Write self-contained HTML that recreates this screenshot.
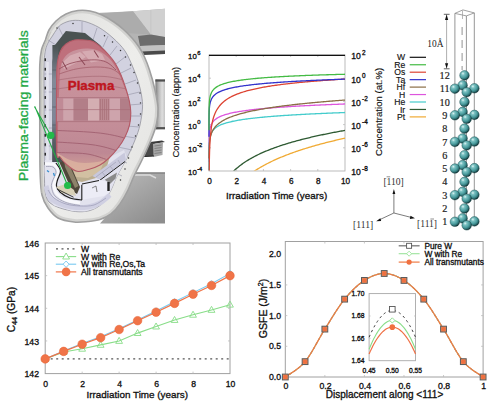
<!DOCTYPE html>
<html><head><meta charset="utf-8"><style>
html,body{margin:0;padding:0;background:#fff;}
svg{display:block;}
text[fill="#111"]{stroke:#111;stroke-width:0.32px;}
</style></head><body>
<svg width="500" height="403" viewBox="0 0 500 403" font-family='"Liberation Sans", sans-serif'>
<rect width="500" height="403" fill="#fff"/>
<g>
<defs>
<linearGradient id="duct" x1="0" y1="0" x2="0" y2="1">
 <stop offset="0" stop-color="#c4c4c4"/><stop offset="0.3" stop-color="#cacaca"/><stop offset="0.47" stop-color="#d6d6d6"/>
 <stop offset="0.58" stop-color="#b4b4b4"/><stop offset="0.66" stop-color="#6e6e6e"/><stop offset="0.78" stop-color="#707070"/>
 <stop offset="0.81" stop-color="#c2c2c2"/><stop offset="0.91" stop-color="#bcbcbc"/><stop offset="0.95" stop-color="#505050"/><stop offset="1" stop-color="#3a3a3a"/>
</linearGradient>
<linearGradient id="block" x1="0" y1="0" x2="0.8" y2="1">
 <stop offset="0" stop-color="#d6d6d6"/><stop offset="0.3" stop-color="#b0b0b0"/><stop offset="1" stop-color="#8e8e8e"/>
</linearGradient>
<linearGradient id="shell" x1="0" y1="0" x2="1" y2="1">
 <stop offset="0" stop-color="#e0e0de"/><stop offset="0.5" stop-color="#ededeb"/><stop offset="1" stop-color="#e2e2e0"/>
</linearGradient>
<linearGradient id="pink" x1="0" y1="0" x2="0" y2="1">
 <stop offset="0" stop-color="#c8929c"/><stop offset="0.5" stop-color="#c6909a"/><stop offset="0.82" stop-color="#be8894"/><stop offset="1" stop-color="#d8aa98"/>
</linearGradient>
<radialGradient id="redring" cx="0.3" cy="0.25" r="0.5">
 <stop offset="0" stop-color="#c85058" stop-opacity="0"/><stop offset="0.7" stop-color="#c85058" stop-opacity="0.0"/><stop offset="1" stop-color="#c04050" stop-opacity="0.5"/>
</radialGradient>
</defs>
<path d="M96,13 L133,11.2 L165,8.8 L165,54 L140,54.5 L110,40 Z" fill="#b4b4b4"/>
<path d="M133,11.2 L165,8.8 L165,37 L150.8,34.5 Z" fill="#d0d0d0"/>
<path d="M100,13.5 L133,11.2 L150.8,34.5 L125,33 Z" fill="#acacac"/>
<path d="M138,36 L150.8,34.5 L165,37 L165,45 L140,46 Z" fill="#6c6c6c"/>
<path d="M140,46 L165,45 L165,51 L142,52 Z" fill="#c2c2c2"/>
<path d="M142,51.5 L165,50.5 L165,54 L144,55 Z" fill="#4a4a4a"/>
<path d="M150.8,34.5 L150.8,10" stroke="#c4c4c4" stroke-width="0.8"/>
<linearGradient id="portg" x1="0" y1="0" x2="1" y2="0"><stop offset="0" stop-color="#7c7c7c"/><stop offset="0.35" stop-color="#b8b8b8"/><stop offset="0.7" stop-color="#dedede"/><stop offset="1" stop-color="#c4c4c4"/></linearGradient>
<rect x="155.4" y="79.4" width="9.6" height="49.9" fill="url(#portg)"/>
<rect x="155.4" y="79.4" width="9.6" height="2.2" fill="#505050"/>
<rect x="155.4" y="127.1" width="9.6" height="2.2" fill="#505050"/>
<path d="M150,142 L162,140.5 L165,142 L153,144 Z" fill="#3a3a3a"/>
<path d="M144,156.5 L150,142.5 L155,143.5 L154,156 Z" fill="#4a4a4a"/>
<path d="M153,144 L163,142.5 L162.5,155 L153.5,157 Z" fill="#a8a8a8"/>
<path d="M154.5,146 L161.5,145 M154.5,148.5 L161.5,147.5 M154.5,151 L161.5,150 M154.5,153.5 L161.5,152.5" stroke="#666" stroke-width="0.6"/>
<path d="M144,156.5 L154,156" stroke="#222" stroke-width="1"/>
<path d="M128,172.5 L165,172.5 L165,223.5 L100,223.5 L110,212 Z" fill="url(#block)"/>
<path d="M133,173 L165,173" stroke="#7a7a7a" stroke-width="1.2"/><path d="M134,175 L150,175 L156,178" stroke="#dcdcdc" stroke-width="1.5" fill="none"/>
<clipPath id="sclip"><path d="M39.8,100 C39.8,87.5 39.5,73.3 39.8,65 C40.1,56.7 40.6,54.2 41.5,50 C42.4,45.8 44.1,43.3 45.4,40 C46.6,36.7 47.2,33.2 49,30 C50.8,26.8 53.2,23.7 56,21 C58.8,18.3 62.3,15.8 66,14 C69.7,12.2 74,11 78,10.5 C82,10 86,10.2 90,11 C94,11.8 98,13.2 102,15 C106,16.8 110.4,19.6 114,22 C117.6,24.4 120.5,26.8 123.5,29.5 C126.5,32.2 129.4,35.1 132,38 C134.6,40.9 136.9,43.8 139,47 C141.1,50.2 142.8,53.2 144.5,57 C146.2,60.8 147.8,64.8 149.5,70 C151.2,75.2 153.1,81.7 154.5,88 C155.9,94.3 157.7,102 158,108 C158.3,114 157.7,118.7 156.5,124 C155.3,129.3 153.4,134 151,140 C148.6,146 144.8,154 142,160 C139.2,166 136.3,171 134,176 C131.7,181 130.3,185.3 128,190 C125.7,194.7 122.8,200 120,204 C117.2,208 114.3,211.4 111,214 C107.7,216.6 103.8,218.2 100,219.5 C96.2,220.8 92.3,221.1 88,221.5 C83.7,221.9 79,222.6 74,222 C69,221.4 62.3,220.3 58,218 C53.7,215.7 50.7,211.8 48,208 C45.3,204.2 43.3,200.5 42,195 C40.7,189.5 40.6,184.2 40.2,175 C39.8,165.8 39.9,152.5 39.8,140 C39.7,127.5 39.8,112.5 39.8,100Z"/></clipPath>
<path d="M39.8,100 C39.8,87.5 39.5,73.3 39.8,65 C40.1,56.7 40.6,54.2 41.5,50 C42.4,45.8 44.1,43.3 45.4,40 C46.6,36.7 47.2,33.2 49,30 C50.8,26.8 53.2,23.7 56,21 C58.8,18.3 62.3,15.8 66,14 C69.7,12.2 74,11 78,10.5 C82,10 86,10.2 90,11 C94,11.8 98,13.2 102,15 C106,16.8 110.4,19.6 114,22 C117.6,24.4 120.5,26.8 123.5,29.5 C126.5,32.2 129.4,35.1 132,38 C134.6,40.9 136.9,43.8 139,47 C141.1,50.2 142.8,53.2 144.5,57 C146.2,60.8 147.8,64.8 149.5,70 C151.2,75.2 153.1,81.7 154.5,88 C155.9,94.3 157.7,102 158,108 C158.3,114 157.7,118.7 156.5,124 C155.3,129.3 153.4,134 151,140 C148.6,146 144.8,154 142,160 C139.2,166 136.3,171 134,176 C131.7,181 130.3,185.3 128,190 C125.7,194.7 122.8,200 120,204 C117.2,208 114.3,211.4 111,214 C107.7,216.6 103.8,218.2 100,219.5 C96.2,220.8 92.3,221.1 88,221.5 C83.7,221.9 79,222.6 74,222 C69,221.4 62.3,220.3 58,218 C53.7,215.7 50.7,211.8 48,208 C45.3,204.2 43.3,200.5 42,195 C40.7,189.5 40.6,184.2 40.2,175 C39.8,165.8 39.9,152.5 39.8,140 C39.7,127.5 39.8,112.5 39.8,100Z" fill="url(#shell)"/>
<path d="M39.8,100 C39.8,87.5 39.5,73.3 39.8,65 C40.1,56.7 40.6,54.2 41.5,50 C42.4,45.8 44.1,43.3 45.4,40 C46.6,36.7 47.2,33.2 49,30 C50.8,26.8 53.2,23.7 56,21 C58.8,18.3 62.3,15.8 66,14 C69.7,12.2 74,11 78,10.5 C82,10 86,10.2 90,11 C94,11.8 98,13.2 102,15 C106,16.8 110.4,19.6 114,22 C117.6,24.4 120.5,26.8 123.5,29.5 C126.5,32.2 129.4,35.1 132,38 C134.6,40.9 136.9,43.8 139,47 C141.1,50.2 142.8,53.2 144.5,57 C146.2,60.8 147.8,64.8 149.5,70 C151.2,75.2 153.1,81.7 154.5,88 C155.9,94.3 157.7,102 158,108 C158.3,114 157.7,118.7 156.5,124 C155.3,129.3 153.4,134 151,140 C148.6,146 144.8,154 142,160 C139.2,166 136.3,171 134,176 C131.7,181 130.3,185.3 128,190 C125.7,194.7 122.8,200 120,204 C117.2,208 114.3,211.4 111,214 C107.7,216.6 103.8,218.2 100,219.5 C96.2,220.8 92.3,221.1 88,221.5 C83.7,221.9 79,222.6 74,222 C69,221.4 62.3,220.3 58,218 C53.7,215.7 50.7,211.8 48,208 C45.3,204.2 43.3,200.5 42,195 C40.7,189.5 40.6,184.2 40.2,175 C39.8,165.8 39.9,152.5 39.8,140 C39.7,127.5 39.8,112.5 39.8,100Z" fill="none" stroke="#d2d2d0" stroke-width="6" clip-path="url(#sclip)"/>
<path d="M39.8,100 C39.8,87.5 39.5,73.3 39.8,65 C40.1,56.7 40.6,54.2 41.5,50 C42.4,45.8 44.1,43.3 45.4,40 C46.6,36.7 47.2,33.2 49,30 C50.8,26.8 53.2,23.7 56,21 C58.8,18.3 62.3,15.8 66,14 C69.7,12.2 74,11 78,10.5 C82,10 86,10.2 90,11 C94,11.8 98,13.2 102,15 C106,16.8 110.4,19.6 114,22 C117.6,24.4 120.5,26.8 123.5,29.5 C126.5,32.2 129.4,35.1 132,38 C134.6,40.9 136.9,43.8 139,47 C141.1,50.2 142.8,53.2 144.5,57 C146.2,60.8 147.8,64.8 149.5,70 C151.2,75.2 153.1,81.7 154.5,88 C155.9,94.3 157.7,102 158,108 C158.3,114 157.7,118.7 156.5,124 C155.3,129.3 153.4,134 151,140 C148.6,146 144.8,154 142,160 C139.2,166 136.3,171 134,176 C131.7,181 130.3,185.3 128,190 C125.7,194.7 122.8,200 120,204 C117.2,208 114.3,211.4 111,214 C107.7,216.6 103.8,218.2 100,219.5 C96.2,220.8 92.3,221.1 88,221.5 C83.7,221.9 79,222.6 74,222 C69,221.4 62.3,220.3 58,218 C53.7,215.7 50.7,211.8 48,208 C45.3,204.2 43.3,200.5 42,195 C40.7,189.5 40.6,184.2 40.2,175 C39.8,165.8 39.9,152.5 39.8,140 C39.7,127.5 39.8,112.5 39.8,100Z" fill="none" stroke="#a0a0a0" stroke-width="1.6"/>
<path d="M42,193 C42,184.2 41.8,161.3 41.8,140 C41.8,118.7 41.5,80 41.8,65 C42.1,50 42.6,54.2 43.5,50 C44.4,45.8 45.8,43 47,40 C48.2,37 50.3,33.3 51,32" fill="none" stroke="#c8c8c0" stroke-width="1"/>
<path d="M44,100 C44,82.5 43.8,73.3 44,65 C44.2,56.7 44.8,53.8 45.5,50 C46.2,46.2 47.4,44.3 48.5,42 C49.6,39.7 51,38.2 52.4,36 C53.8,33.8 55.4,31 57,29 C58.6,27 59.4,25.4 62,24 C64.6,22.6 68.6,20.9 72.4,20.5 C76.2,20.1 80.4,20.3 84.8,21.5 C89.2,22.7 94.3,24.8 99,27.5 C103.7,30.2 108.7,34.1 113,38 C117.3,41.9 121.8,46.3 125,51 C128.2,55.7 130.2,61 132.4,66 C134.6,71 136.5,76.2 138,81 C139.5,85.8 140.8,90.5 141.5,95 C142.2,99.5 142.8,103 142.5,108 C142.2,113 141.2,119.7 140,125 C138.8,130.3 137.2,134.5 135,140 C132.8,145.5 130,152 127,158 C124,164 119.7,170.7 117,176 C114.3,181.3 113.3,185.6 111,190 C108.7,194.4 105.7,199.4 103,202.5 C100.3,205.6 98,207 95,208.5 C92,210 88.8,211.1 85,211.5 C81.2,211.9 77.2,212 72,211 C66.8,210 58.3,208 54,205.5 C49.7,203 47.6,201.9 46,196 C44.4,190.1 44.6,186 44.3,170 C44,154 44,117.5 44,100Z" fill="#d2d2e0" stroke="#8a8a94" stroke-width="0.7"/>
<rect x="44.5" y="58.3" width="1.5" height="2.8" fill="#2a2a2a"/>
<rect x="44.5" y="67.8" width="1.5" height="2.8" fill="#2a2a2a"/>
<rect x="44.5" y="77.2" width="1.5" height="2.8" fill="#2a2a2a"/>
<rect x="44.5" y="86.6" width="1.5" height="2.8" fill="#2a2a2a"/>
<rect x="44.5" y="96.1" width="1.5" height="2.8" fill="#2a2a2a"/>
<rect x="44.5" y="105.5" width="1.5" height="2.8" fill="#2a2a2a"/>
<rect x="44.5" y="115.0" width="1.5" height="2.8" fill="#2a2a2a"/>
<rect x="44.5" y="124.4" width="1.5" height="2.8" fill="#2a2a2a"/>
<rect x="44.5" y="133.9" width="1.5" height="2.8" fill="#2a2a2a"/>
<rect x="44.5" y="143.3" width="1.5" height="2.8" fill="#2a2a2a"/>
<rect x="44.5" y="152.8" width="1.5" height="2.8" fill="#2a2a2a"/>
<rect x="44.5" y="162.2" width="1.5" height="2.8" fill="#2a2a2a"/>
<circle cx="57" cy="28" r="0.75" fill="#333"/>
<circle cx="73" cy="23.5" r="0.75" fill="#333"/>
<circle cx="104.5" cy="35.7" r="0.75" fill="#333"/>
<circle cx="112.5" cy="42" r="0.75" fill="#333"/>
<circle cx="120.5" cy="50.5" r="0.75" fill="#333"/>
<circle cx="125.5" cy="57" r="0.75" fill="#333"/>
<circle cx="130.5" cy="65" r="0.75" fill="#333"/>
<circle cx="134" cy="72.5" r="0.75" fill="#333"/>
<circle cx="137.5" cy="83" r="0.75" fill="#333"/>
<circle cx="140" cy="93" r="0.75" fill="#333"/>
<circle cx="140.5" cy="103" r="0.75" fill="#333"/>
<circle cx="140.5" cy="114" r="0.75" fill="#333"/>
<circle cx="138.5" cy="125" r="0.75" fill="#333"/>
<circle cx="135.5" cy="136" r="0.75" fill="#333"/>
<circle cx="132" cy="147" r="0.75" fill="#333"/>
<circle cx="128.5" cy="158" r="0.75" fill="#333"/>
<circle cx="125" cy="169" r="0.75" fill="#333"/>
<circle cx="120.5" cy="180" r="0.75" fill="#333"/>
<line x1="44.5" y1="74" x2="52" y2="74" stroke="#9c9cae" stroke-width="0.7"/>
<line x1="44.5" y1="92" x2="52" y2="92" stroke="#9c9cae" stroke-width="0.7"/>
<line x1="44.5" y1="110" x2="52" y2="110" stroke="#9c9cae" stroke-width="0.7"/>
<line x1="44.5" y1="128" x2="52" y2="128" stroke="#9c9cae" stroke-width="0.7"/>
<line x1="44.5" y1="146" x2="52" y2="146" stroke="#9c9cae" stroke-width="0.7"/>
<line x1="48" y1="40" x2="56" y2="45" stroke="#9c9cae" stroke-width="0.7"/>
<line x1="58" y1="26" x2="63" y2="36" stroke="#9c9cae" stroke-width="0.7"/>
<line x1="82" y1="21.5" x2="82" y2="33" stroke="#9c9cae" stroke-width="0.7"/>
<line x1="97" y1="28" x2="93" y2="40" stroke="#9c9cae" stroke-width="0.7"/>
<line x1="108" y1="36" x2="103" y2="47" stroke="#9c9cae" stroke-width="0.7"/>
<line x1="117" y1="46" x2="110" y2="55" stroke="#9c9cae" stroke-width="0.7"/>
<line x1="125" y1="57" x2="116" y2="64" stroke="#9c9cae" stroke-width="0.7"/>
<line x1="131" y1="68" x2="121" y2="73" stroke="#9c9cae" stroke-width="0.7"/>
<line x1="136" y1="80" x2="125" y2="84" stroke="#9c9cae" stroke-width="0.7"/>
<line x1="139.5" y1="92" x2="127" y2="95" stroke="#9c9cae" stroke-width="0.7"/>
<line x1="141.5" y1="104" x2="129" y2="105" stroke="#9c9cae" stroke-width="0.7"/>
<line x1="141.5" y1="116" x2="129" y2="116" stroke="#9c9cae" stroke-width="0.7"/>
<line x1="139" y1="127" x2="127" y2="126" stroke="#9c9cae" stroke-width="0.7"/>
<line x1="135.5" y1="138" x2="123" y2="136" stroke="#9c9cae" stroke-width="0.7"/>
<line x1="132" y1="150" x2="118" y2="147" stroke="#9c9cae" stroke-width="0.7"/>
<line x1="127" y1="163" x2="112" y2="158" stroke="#9c9cae" stroke-width="0.7"/>
<line x1="122" y1="176" x2="104" y2="167" stroke="#9c9cae" stroke-width="0.7"/>
<path d="M47.5,62 C47.5,78.3 47.5,143.7 47.5,160" stroke="#e4e4ee" stroke-width="2.5" fill="none"/>
<path d="M45,160 L56,160 L66,164 L80,172 L94,170 L112,156 L124,150 L127,158 L117,176 L111,190 L103,202.5 L95,208.5 L85,211.5 L72,211 L54,205.5 L46,196 L44.5,170 Z" fill="#e2e2ee"/>
<path d="M46,186 C46.7,187.8 48,194.2 50,197 C52,199.8 54.3,201.3 58,203 C61.7,204.7 67,206.3 72,207 C77,207.7 83.3,207.7 88,207 C92.7,206.3 96.3,205 100,203 C103.7,201 108.3,196.3 110,195" fill="none" stroke="#cfcfe2" stroke-width="5"/>
<path d="M48,190 C49,191.3 51,195.7 54,198 C57,200.3 61.7,202.7 66,204 C70.3,205.3 75.3,205.8 80,206 C84.7,206.2 89.7,206.3 94,205 C98.3,203.7 104,199.2 106,198" fill="none" stroke="#9a9ab4" stroke-width="0.7"/>
<path d="M45,163.8 C46.5,163.9 51.8,163.2 54,164.6 C56.2,166 58.2,169.3 58.4,172 C58.6,174.7 55.7,178.7 55,181 C54.3,183.3 53.7,183.8 54,186 C54.3,188.2 55,191.7 57,194 C59,196.3 62.2,198.5 66,200 C69.8,201.5 77.7,202.5 80,203" fill="none" stroke="#f8f8fc" stroke-width="3"/>
<path d="M46,166.5 C47.2,166.6 51.3,166 53,167 C54.7,168 56.1,170.2 56,172.5 C55.9,174.8 53.2,178.6 52.5,181 C51.8,183.4 51.1,184.5 51.5,187 C51.9,189.5 52.6,193.4 55,196 C57.4,198.6 61.8,200.9 66,202.5 C70.2,204.1 77.7,205 80,205.5" fill="none" stroke="#9a9ab0" stroke-width="0.8"/>
<path d="M56,163 C56.8,164.3 60.2,168.2 60.5,171 C60.8,173.8 58.2,177.5 57.5,180 C56.8,182.5 56.1,184 56.5,186 C56.9,188 57.8,190 60,192 C62.2,194 66.3,196.7 70,198 C73.7,199.3 80,199.7 82,200" fill="none" stroke="#1c1c1c" stroke-width="1.2"/>
<path d="M47,170.5 L49,172 M53.5,173 L54.5,176" stroke="#3a90d0" stroke-width="1.4"/>
<path d="M62,160 L77,171.3 L94,167 L110,156 L106,170 L96,178 L82,182 L68,179 Z" fill="#bcae90"/>
<path d="M72,170 L90,168.5 L104,161 L100,172 L88,178 L76,177 Z" fill="#d2c0a2"/>
<path d="M57,157 L65,155 L70,164 L80,187 L77,194 L72,191 Z" fill="#4e473a"/>
<path d="M64,158 L69,164 L78.5,186 L75,188 L65,167 Z" fill="#8c826a"/>
<path d="M56,187 L66,184 L74,190 L76,196 L62,193 Z" fill="#d8d0b8"/>
<path d="M57,189 L73.5,197.2" stroke="#222" stroke-width="0.9"/>
<path d="M92.4,176 L124.6,152.5 L126,160 L99.8,179.8 Z" fill="#c8c8dc"/>
<path d="M99.8,180.3 L125,161.5" stroke="#1e1e1e" stroke-width="1"/>
<path d="M96,177 L116,162 M102,172 L106,177 M110,166 L114,171 M118,160 L121,165" stroke="#9a9ab0" stroke-width="0.6"/>
<path d="M104.8,179.8 L117,172.5 L115.5,178.5 L110,184 Z" fill="#8a8a8a"/>
<path d="M80,183 L100,180 L108,182 L110,192 L104,196 L92,198 L82,200 Z" fill="#ececf6"/>
<path d="M81.8,184.7 L81.8,200 M82,184 L99,180.5" stroke="#1c1c1c" stroke-width="1.1" fill="none"/>
<path d="M107.3,182 L109.7,182 L109.7,191 L107.3,191 Z" fill="#222"/>
<path d="M92,188 L96,186 L97,192" stroke="#555" stroke-width="0.7" fill="none"/>
<linearGradient id="lstrip" x1="0" y1="0" x2="0" y2="1"><stop offset="0" stop-color="#4a5252"/><stop offset="0.12" stop-color="#5e666e"/><stop offset="0.3" stop-color="#828a98"/><stop offset="0.64" stop-color="#7e8698"/><stop offset="0.78" stop-color="#5a6268"/><stop offset="1" stop-color="#4a5058"/></linearGradient>
<path d="M52.4,162 L52.4,62 L55,45 L65.9,31 L85,33 L100,45 L108,54 L100,70 L70,100 L62,162 Z" fill="#4a5252"/>
<rect x="52.4" y="45" width="6" height="117" fill="url(#lstrip)"/>
<path d="M52.4,70 L57,70 M52.4,88.8 L57,88.8 M52.4,107 L57,107 M52.4,125 L57,125 M52.4,143 L57,143" stroke="#555c66" stroke-width="0.7"/>
<clipPath id="pclip"><path d="M56.6,150 C56,137.2 56.5,94.7 56.6,80 C56.8,65.3 56.9,66.8 57.5,62 C58.1,57.2 59.1,54 60.5,51 C61.9,48 63.6,45.8 66,44 C68.3,42.2 71.6,40.7 74.6,40 C77.6,39.3 80.9,39.8 84,40 C87.1,40.2 90.3,40.4 93,41.5 C95.7,42.6 97.5,44.4 100,46.5 C102.5,48.6 105.5,51.2 108,54 C110.5,56.8 112.8,59.5 115,63 C117.2,66.5 119.2,70.7 121,75 C122.8,79.3 124.6,84.5 126,89 C127.4,93.5 128.7,98 129.5,102 C130.3,106 130.8,109.2 130.8,113 C130.8,116.8 130.5,121 129.5,125 C128.5,129 126.9,133.2 125,137 C123.1,140.8 120.7,144.5 118,148 C115.3,151.5 112,155.2 109,158 C106,160.8 103.2,163.2 100,165 C96.8,166.8 93.8,167.9 90,169 C86.2,170.1 81,172.1 77,171.3 C73,170.5 68.8,166.4 66,164 C63.2,161.6 61.6,159.3 60,157 C58.4,154.7 57.2,162.8 56.6,150Z"/></clipPath>
<path d="M56.6,150 C56,137.2 56.5,94.7 56.6,80 C56.8,65.3 56.9,66.8 57.5,62 C58.1,57.2 59.1,54 60.5,51 C61.9,48 63.6,45.8 66,44 C68.3,42.2 71.6,40.7 74.6,40 C77.6,39.3 80.9,39.8 84,40 C87.1,40.2 90.3,40.4 93,41.5 C95.7,42.6 97.5,44.4 100,46.5 C102.5,48.6 105.5,51.2 108,54 C110.5,56.8 112.8,59.5 115,63 C117.2,66.5 119.2,70.7 121,75 C122.8,79.3 124.6,84.5 126,89 C127.4,93.5 128.7,98 129.5,102 C130.3,106 130.8,109.2 130.8,113 C130.8,116.8 130.5,121 129.5,125 C128.5,129 126.9,133.2 125,137 C123.1,140.8 120.7,144.5 118,148 C115.3,151.5 112,155.2 109,158 C106,160.8 103.2,163.2 100,165 C96.8,166.8 93.8,167.9 90,169 C86.2,170.1 81,172.1 77,171.3 C73,170.5 68.8,166.4 66,164 C63.2,161.6 61.6,159.3 60,157 C58.4,154.7 57.2,162.8 56.6,150Z" fill="url(#pink)"/>
<g clip-path="url(#pclip)">
<path d="M56.6,150 C56,137.2 56.5,94.7 56.6,80 C56.8,65.3 56.9,66.8 57.5,62 C58.1,57.2 59.1,54 60.5,51 C61.9,48 63.6,45.8 66,44 C68.3,42.2 71.6,40.7 74.6,40 C77.6,39.3 80.9,39.8 84,40 C87.1,40.2 90.3,40.4 93,41.5 C95.7,42.6 97.5,44.4 100,46.5 C102.5,48.6 105.5,51.2 108,54 C110.5,56.8 112.8,59.5 115,63 C117.2,66.5 119.2,70.7 121,75 C122.8,79.3 124.6,84.5 126,89 C127.4,93.5 128.7,98 129.5,102 C130.3,106 130.8,109.2 130.8,113 C130.8,116.8 130.5,121 129.5,125 C128.5,129 126.9,133.2 125,137 C123.1,140.8 120.7,144.5 118,148 C115.3,151.5 112,155.2 109,158 C106,160.8 103.2,163.2 100,165 C96.8,166.8 93.8,167.9 90,169 C86.2,170.1 81,172.1 77,171.3 C73,170.5 68.8,166.4 66,164 C63.2,161.6 61.6,159.3 60,157 C58.4,154.7 57.2,162.8 56.6,150Z" fill="#b85462" opacity="0.55"/>
<path d="M58.5,110 C58.8,104 59.3,82.2 60,74 C60.7,65.8 61.1,64.4 62.5,61 C63.9,57.6 65.9,55.4 68.5,53.5 C71.1,51.6 74.8,50.3 78,49.5 C81.2,48.7 84.7,48.3 88,48.5 C91.3,48.7 95,49.3 98,50.5 C101,51.7 103.5,53.4 106,55.5 C108.5,57.6 110.8,59.8 113,63 C115.2,66.2 117.4,70.5 119.5,75 C121.6,79.5 123.6,85.2 125.5,90 C127.4,94.8 130.1,101.7 131,104 L132,176 L57,176 Z" fill="url(#pink)"/>
<path d="M62,63 L70,55.5 L80,52 L86,57 L75,63.5 L64,69 Z" fill="#dab2b8" opacity="0.8"/>
<path d="M82,51.5 L94,50 L102,54 L105,60 L91,62.5 Z" fill="#dab2b8" opacity="0.8"/>
<path d="M59,69 C60.8,68.1 65.8,64.9 70,63.5 C74.2,62.1 79.3,61.1 84,60.5 C88.7,59.9 94,59.6 98,60 C102,60.4 105,61.3 108,63 C111,64.7 114.7,68.8 116,70" fill="none" stroke="#9a5462" stroke-width="0.9"/>
<path d="M59,74 C61.8,73.2 69.8,70.2 76,69 C82.2,67.8 90,67 96,67 C102,67 107.7,67.5 112,69 C116.3,70.5 120.3,74.8 122,76" fill="none" stroke="#a4606c" stroke-width="0.8"/>
<path d="M62.5,61.5 L67,69.5 M79,57 L85,65 M94,50.5 L98.5,57.5" stroke="#8e4a58" stroke-width="1.1"/>
<path d="M58,80 C61.7,79.5 72.2,77.6 80,77 C87.8,76.4 97.7,76 105,76.5 C112.3,77 120.8,79.4 124,80" fill="none" stroke="#a86a76" stroke-width="0.7"/>
<path d="M57,89 C60.8,88.5 72,86.6 80,86 C88,85.4 97.2,85 105,85.5 C112.8,86 123.3,88.4 127,89" fill="none" stroke="#a86a76" stroke-width="0.7"/>
<rect x="56" y="97.6" width="76" height="24" fill="#c08a96"/>
<rect x="63.2" y="98.5" width="10.4" height="22" fill="#cea4ac"/>
<rect x="73.6" y="98.5" width="14.4" height="22" fill="#b27e88"/>
<rect x="88" y="98.5" width="11" height="22" fill="#d4aeb2"/>
<rect x="99" y="98.5" width="10.6" height="22" fill="#bc8a92"/>
<path d="M100.5,99 V120 M102.5,99 V120 M104.5,99 V120 M106.5,99 V120 M108.5,99 V120" stroke="#a46c74" stroke-width="0.6"/>
<rect x="109.6" y="98.5" width="10.4" height="22" fill="#cea4ac"/>
<rect x="120" y="98.5" width="12" height="22" fill="#b27e88"/>
<path d="M56,109.6 H132 M56,97.6 H132 M56,121.6 H132" stroke="#a86e78" stroke-width="0.7"/>
<path d="M56,130.4 C62,130.7 82.7,131.5 92,132.3 C101.3,133.1 105.3,133.7 112,135 C118.7,136.3 128.7,139.2 132,140" fill="none" stroke="#a06070" stroke-width="0.9"/>
<path d="M56,142 C62,142.4 82.2,143.4 92,144.7 C101.8,146 109.2,148.3 114.5,150 C119.8,151.7 122.4,154.2 124,155" fill="none" stroke="#a06070" stroke-width="0.9"/>
<path d="M56,152.5 C61,152.7 77.8,152.7 86,153.8 C94.2,154.9 100.7,157.5 105,159 C109.3,160.5 110.8,162.3 112,163" fill="none" stroke="#a06070" stroke-width="0.9"/>
<path d="M56,152 C58.3,153.3 65.2,158.2 70,160 C74.8,161.8 79.2,163 85,163 C90.8,163 99.2,162.2 105,160 C110.8,157.8 117.5,151.7 120,150 L120,175 L56,175 Z" fill="#dcb2a0" opacity="0.85"/>
</g>
<path d="M56.6,150 C56,137.2 56.5,94.7 56.6,80 C56.8,65.3 56.9,66.8 57.5,62 C58.1,57.2 59.1,54 60.5,51 C61.9,48 63.6,45.8 66,44 C68.3,42.2 71.6,40.7 74.6,40 C77.6,39.3 80.9,39.8 84,40 C87.1,40.2 90.3,40.4 93,41.5 C95.7,42.6 97.5,44.4 100,46.5 C102.5,48.6 105.5,51.2 108,54 C110.5,56.8 112.8,59.5 115,63 C117.2,66.5 119.2,70.7 121,75 C122.8,79.3 124.6,84.5 126,89 C127.4,93.5 128.7,98 129.5,102 C130.3,106 130.8,109.2 130.8,113 C130.8,116.8 130.5,121 129.5,125 C128.5,129 126.9,133.2 125,137 C123.1,140.8 120.7,144.5 118,148 C115.3,151.5 112,155.2 109,158 C106,160.8 103.2,163.2 100,165 C96.8,166.8 93.8,167.9 90,169 C86.2,170.1 81,172.1 77,171.3 C73,170.5 68.8,166.4 66,164 C63.2,161.6 61.6,159.3 60,157 C58.4,154.7 57.2,162.8 56.6,150Z" fill="none" stroke="#b45a66" stroke-width="1.1"/>
<path d="M34.4,106.4 L50.8,135.3 M34.8,106.4 L67.6,185.5" stroke="#22aa44" stroke-width="1.1" fill="none"/>
<circle cx="50.8" cy="135.3" r="3.6" fill="#22bb4a"/>
<circle cx="67.6" cy="185.5" r="3.6" fill="#22bb4a"/>
<text x="67.8" y="89.8" font-family="&quot;Liberation Sans&quot;, sans-serif" font-weight="bold" font-size="13.3" fill="#bf161e" stroke="#bf161e" stroke-width="0.4" textLength="46.5" lengthAdjust="spacingAndGlyphs">Plasma</text>
<text transform="translate(27.8,181.2) rotate(-90)" font-family="&quot;Liberation Sans&quot;, sans-serif" font-size="13.7" fill="#1fa845" stroke="#1fa845" stroke-width="0.3" textLength="151" lengthAdjust="spacingAndGlyphs">Plasma-facing materials</text>
</g>
<rect x="209" y="55" width="136" height="116" fill="none" stroke="#b4b4b4" stroke-width="0.9"/>
<line x1="236.2" y1="171" x2="236.2" y2="169" stroke="#bbb" stroke-width="0.8"/>
<line x1="236.2" y1="55" x2="236.2" y2="57" stroke="#bbb" stroke-width="0.8"/>
<line x1="263.4" y1="171" x2="263.4" y2="169" stroke="#bbb" stroke-width="0.8"/>
<line x1="263.4" y1="55" x2="263.4" y2="57" stroke="#bbb" stroke-width="0.8"/>
<line x1="290.6" y1="171" x2="290.6" y2="169" stroke="#bbb" stroke-width="0.8"/>
<line x1="290.6" y1="55" x2="290.6" y2="57" stroke="#bbb" stroke-width="0.8"/>
<line x1="317.8" y1="171" x2="317.8" y2="169" stroke="#bbb" stroke-width="0.8"/>
<line x1="317.8" y1="55" x2="317.8" y2="57" stroke="#bbb" stroke-width="0.8"/>
<line x1="209" y1="78.2" x2="211" y2="78.2" stroke="#bbb" stroke-width="0.8"/>
<line x1="345" y1="78.2" x2="343" y2="78.2" stroke="#bbb" stroke-width="0.8"/>
<line x1="209" y1="101.4" x2="211" y2="101.4" stroke="#bbb" stroke-width="0.8"/>
<line x1="345" y1="101.4" x2="343" y2="101.4" stroke="#bbb" stroke-width="0.8"/>
<line x1="209" y1="124.6" x2="211" y2="124.6" stroke="#bbb" stroke-width="0.8"/>
<line x1="345" y1="124.6" x2="343" y2="124.6" stroke="#bbb" stroke-width="0.8"/>
<line x1="209" y1="147.8" x2="211" y2="147.8" stroke="#bbb" stroke-width="0.8"/>
<line x1="345" y1="147.8" x2="343" y2="147.8" stroke="#bbb" stroke-width="0.8"/>
<clipPath id="c1clip"><rect x="208" y="54" width="138" height="116.5"/></clipPath>
<line x1="209" y1="55.3" x2="345" y2="55.3" stroke="#111" stroke-width="1.2"/>
<path d="M209,161.97 L209,161.38 L209,160.79 L209,160.2 L209,159.61 L209,159.02 L209,158.43 L209,157.84 L209,157.25 L209,156.66 L209,156.08 L209,155.49 L209.01,154.9 L209.01,154.31 L209.01,153.72 L209.01,153.13 L209.01,152.54 L209.01,151.95 L209.01,151.36 L209.01,150.77 L209.01,150.18 L209.02,149.59 L209.02,149 L209.02,148.41 L209.02,147.82 L209.03,147.23 L209.03,146.64 L209.03,146.05 L209.04,145.46 L209.04,144.87 L209.05,144.28 L209.05,143.69 L209.06,143.1 L209.06,142.51 L209.07,141.92 L209.08,141.33 L209.09,140.74 L209.1,140.15 L209.12,139.56 L209.13,138.97 L209.15,138.38 L209.17,137.79 L209.19,137.2 L209.21,136.61 L209.23,136.02 L209.26,135.43 L209.3,134.84 L209.33,134.25 L209.38,133.66 L209.42,133.07 L209.47,132.48 L209.53,131.89 L209.6,131.3 L209.67,130.71 L209.76,130.12 L209.85,129.53 L209.96,128.94 L210.08,128.35 L210.21,127.76 L210.36,127.17 L210.36,127.17 L211.49,124.12 L212.62,122.24 L213.75,120.87 L214.89,119.79 L216.02,118.91 L217.15,118.15 L218.28,117.5 L219.41,116.92 L220.54,116.4 L221.67,115.93 L222.81,115.5 L223.94,115.1 L225.07,114.73 L226.2,114.39 L227.33,114.07 L228.46,113.77 L229.59,113.48 L230.73,113.21 L231.86,112.96 L232.99,112.71 L234.12,112.48 L235.25,112.26 L236.38,112.05 L237.51,111.84 L238.65,111.65 L239.78,111.46 L240.91,111.28 L242.04,111.1 L243.17,110.93 L244.3,110.77 L245.43,110.61 L246.57,110.45 L247.7,110.31 L248.83,110.16 L249.96,110.02 L251.09,109.88 L252.22,109.75 L253.35,109.62 L254.49,109.49 L255.62,109.37 L256.75,109.25 L257.88,109.13 L259.01,109.01 L260.14,108.9 L261.27,108.79 L262.41,108.68 L263.54,108.58 L264.67,108.47 L265.8,108.37 L266.93,108.27 L268.06,108.18 L269.19,108.08 L270.33,107.99 L271.46,107.89 L272.59,107.8 L273.72,107.71 L274.85,107.63 L275.98,107.54 L277.11,107.46 L278.25,107.37 L279.38,107.29 L280.51,107.21 L281.64,107.13 L282.77,107.05 L283.9,106.98 L285.03,106.9 L286.17,106.83 L287.3,106.76 L288.43,106.68 L289.56,106.61 L290.69,106.54 L291.82,106.47 L292.95,106.4 L294.09,106.34 L295.22,106.27 L296.35,106.2 L297.48,106.14 L298.61,106.08 L299.74,106.01 L300.87,105.95 L302.01,105.89 L303.14,105.83 L304.27,105.77 L305.4,105.71 L306.53,105.65 L307.66,105.59 L308.79,105.53 L309.93,105.48 L311.06,105.42 L312.19,105.36 L313.32,105.31 L314.45,105.26 L315.58,105.2 L316.71,105.15 L317.85,105.1 L318.98,105.04 L320.11,104.99 L321.24,104.94 L322.37,104.89 L323.5,104.84 L324.63,104.79 L325.77,104.74 L326.9,104.69 L328.03,104.64 L329.16,104.6 L330.29,104.55 L331.42,104.5 L332.55,104.46 L333.69,104.41 L334.82,104.37 L335.95,104.32 L337.08,104.28 L338.21,104.23 L339.34,104.19 L340.47,104.14 L341.61,104.1 L342.74,104.06 L343.87,104.02 L345,103.97" fill="none" stroke="#dd55dd" stroke-width="1.3" stroke-linejoin="round" clip-path="url(#c1clip)"/>
<path d="M209,170.52 L209,169.93 L209,169.34 L209,168.75 L209,168.16 L209,167.57 L209,166.98 L209,166.39 L209,165.8 L209,165.21 L209,164.62 L209,164.03 L209.01,163.44 L209.01,162.85 L209.01,162.26 L209.01,161.67 L209.01,161.08 L209.01,160.49 L209.01,159.9 L209.01,159.31 L209.01,158.72 L209.02,158.13 L209.02,157.54 L209.02,156.95 L209.02,156.36 L209.03,155.77 L209.03,155.18 L209.03,154.59 L209.04,154 L209.04,153.41 L209.05,152.82 L209.05,152.24 L209.06,151.65 L209.06,151.06 L209.07,150.47 L209.08,149.88 L209.09,149.29 L209.1,148.7 L209.12,148.11 L209.13,147.52 L209.15,146.93 L209.17,146.34 L209.19,145.75 L209.21,145.16 L209.23,144.57 L209.26,143.98 L209.3,143.39 L209.33,142.8 L209.38,142.21 L209.42,141.62 L209.47,141.03 L209.53,140.44 L209.6,139.85 L209.67,139.26 L209.76,138.67 L209.85,138.08 L209.96,137.49 L210.08,136.9 L210.21,136.31 L210.36,135.72 L210.36,135.72 L211.49,132.67 L212.62,130.78 L213.75,129.41 L214.89,128.34 L216.02,127.45 L217.15,126.7 L218.28,126.05 L219.41,125.47 L220.54,124.95 L221.67,124.47 L222.81,124.04 L223.94,123.65 L225.07,123.28 L226.2,122.94 L227.33,122.62 L228.46,122.31 L229.59,122.03 L230.73,121.76 L231.86,121.5 L232.99,121.26 L234.12,121.03 L235.25,120.81 L236.38,120.59 L237.51,120.39 L238.65,120.19 L239.78,120.01 L240.91,119.82 L242.04,119.65 L243.17,119.48 L244.3,119.31 L245.43,119.16 L246.57,119 L247.7,118.85 L248.83,118.71 L249.96,118.57 L251.09,118.43 L252.22,118.29 L253.35,118.16 L254.49,118.04 L255.62,117.91 L256.75,117.79 L257.88,117.67 L259.01,117.56 L260.14,117.45 L261.27,117.34 L262.41,117.23 L263.54,117.12 L264.67,117.02 L265.8,116.92 L266.93,116.82 L268.06,116.72 L269.19,116.63 L270.33,116.53 L271.46,116.44 L272.59,116.35 L273.72,116.26 L274.85,116.17 L275.98,116.09 L277.11,116 L278.25,115.92 L279.38,115.84 L280.51,115.76 L281.64,115.68 L282.77,115.6 L283.9,115.52 L285.03,115.45 L286.17,115.37 L287.3,115.3 L288.43,115.23 L289.56,115.16 L290.69,115.09 L291.82,115.02 L292.95,114.95 L294.09,114.88 L295.22,114.82 L296.35,114.75 L297.48,114.69 L298.61,114.62 L299.74,114.56 L300.87,114.5 L302.01,114.43 L303.14,114.37 L304.27,114.31 L305.4,114.25 L306.53,114.19 L307.66,114.14 L308.79,114.08 L309.93,114.02 L311.06,113.97 L312.19,113.91 L313.32,113.86 L314.45,113.8 L315.58,113.75 L316.71,113.69 L317.85,113.64 L318.98,113.59 L320.11,113.54 L321.24,113.49 L322.37,113.44 L323.5,113.39 L324.63,113.34 L325.77,113.29 L326.9,113.24 L328.03,113.19 L329.16,113.14 L330.29,113.1 L331.42,113.05 L332.55,113 L333.69,112.96 L334.82,112.91 L335.95,112.87 L337.08,112.82 L338.21,112.78 L339.34,112.73 L340.47,112.69 L341.61,112.65 L342.74,112.6 L343.87,112.56 L345,112.52" fill="none" stroke="#44cccc" stroke-width="1.3" stroke-linejoin="round" clip-path="url(#c1clip)"/>
<path d="M209,158.52 L209,158.5 L209,158.46 L209,158.42 L209,158.36 L209,158.3 L209,158.22 L209,158.13 L209,158.02 L209,157.91 L209,157.78 L209,157.64 L209.01,157.49 L209.01,157.33 L209.01,157.16 L209.01,156.97 L209.01,156.78 L209.01,156.57 L209.01,156.35 L209.01,156.11 L209.01,155.87 L209.02,155.61 L209.02,155.34 L209.02,155.06 L209.02,154.77 L209.03,154.47 L209.03,154.15 L209.03,153.83 L209.04,153.49 L209.04,153.14 L209.05,152.77 L209.05,152.4 L209.06,152.01 L209.06,151.62 L209.07,151.21 L209.08,150.78 L209.09,150.35 L209.1,149.91 L209.12,149.45 L209.13,148.98 L209.15,148.5 L209.17,148.01 L209.19,147.5 L209.21,146.99 L209.23,146.46 L209.26,145.92 L209.3,145.37 L209.33,144.8 L209.38,144.23 L209.42,143.64 L209.47,143.04 L209.53,142.43 L209.6,141.81 L209.67,141.18 L209.76,140.53 L209.85,139.87 L209.96,139.2 L210.08,138.52 L210.21,137.83 L210.36,137.12 L210.36,137.12 L211.49,133.29 L212.62,130.76 L213.75,128.85 L214.89,127.3 L216.02,126 L217.15,124.87 L218.28,123.87 L219.41,122.98 L220.54,122.17 L221.67,121.42 L222.81,120.74 L223.94,120.1 L225.07,119.5 L226.2,118.94 L227.33,118.41 L228.46,117.92 L229.59,117.44 L230.73,116.99 L231.86,116.56 L232.99,116.15 L234.12,115.75 L235.25,115.37 L236.38,115.01 L237.51,114.66 L238.65,114.32 L239.78,113.99 L240.91,113.67 L242.04,113.37 L243.17,113.07 L244.3,112.78 L245.43,112.5 L246.57,112.23 L247.7,111.96 L248.83,111.7 L249.96,111.45 L251.09,111.21 L252.22,110.97 L253.35,110.73 L254.49,110.5 L255.62,110.28 L256.75,110.06 L257.88,109.85 L259.01,109.64 L260.14,109.43 L261.27,109.23 L262.41,109.03 L263.54,108.84 L264.67,108.65 L265.8,108.46 L266.93,108.28 L268.06,108.1 L269.19,107.92 L270.33,107.75 L271.46,107.58 L272.59,107.41 L273.72,107.24 L274.85,107.08 L275.98,106.92 L277.11,106.76 L278.25,106.61 L279.38,106.45 L280.51,106.3 L281.64,106.15 L282.77,106.01 L283.9,105.86 L285.03,105.72 L286.17,105.58 L287.3,105.44 L288.43,105.3 L289.56,105.16 L290.69,105.03 L291.82,104.9 L292.95,104.77 L294.09,104.64 L295.22,104.51 L296.35,104.39 L297.48,104.26 L298.61,104.14 L299.74,104.02 L300.87,103.9 L302.01,103.78 L303.14,103.66 L304.27,103.54 L305.4,103.43 L306.53,103.32 L307.66,103.2 L308.79,103.09 L309.93,102.98 L311.06,102.87 L312.19,102.76 L313.32,102.66 L314.45,102.55 L315.58,102.45 L316.71,102.34 L317.85,102.24 L318.98,102.14 L320.11,102.04 L321.24,101.94 L322.37,101.84 L323.5,101.74 L324.63,101.64 L325.77,101.55 L326.9,101.45 L328.03,101.36 L329.16,101.26 L330.29,101.17 L331.42,101.08 L332.55,100.99 L333.69,100.89 L334.82,100.8 L335.95,100.72 L337.08,100.63 L338.21,100.54 L339.34,100.45 L340.47,100.36 L341.61,100.28 L342.74,100.19 L343.87,100.11 L345,100.03" fill="none" stroke="#8a6e46" stroke-width="1.3" stroke-linejoin="round" clip-path="url(#c1clip)"/>
<path d="M209.17,176.01 L209.19,173.59 L209.21,171.19 L209.23,168.81 L209.26,166.46 L209.3,164.14 L209.33,161.85 L209.38,159.58 L209.42,157.33 L209.47,155.12 L209.53,152.92 L209.6,150.76 L209.67,148.62 L209.76,146.51 L209.85,144.42 L209.96,142.36 L210.08,140.32 L210.21,138.32 L210.36,136.33 L210.36,136.33 L211.49,126.5 L212.62,120.77 L213.75,116.77 L214.89,113.73 L216.02,111.29 L217.15,109.27 L218.28,107.54 L219.41,106.04 L220.54,104.71 L221.67,103.53 L222.81,102.46 L223.94,101.49 L225.07,100.6 L226.2,99.78 L227.33,99.02 L228.46,98.31 L229.59,97.65 L230.73,97.03 L231.86,96.45 L232.99,95.9 L234.12,95.38 L235.25,94.88 L236.38,94.41 L237.51,93.96 L238.65,93.53 L239.78,93.13 L240.91,92.73 L242.04,92.36 L243.17,92 L244.3,91.65 L245.43,91.32 L246.57,90.99 L247.7,90.68 L248.83,90.38 L249.96,90.09 L251.09,89.81 L252.22,89.54 L253.35,89.28 L254.49,89.02 L255.62,88.77 L256.75,88.53 L257.88,88.3 L259.01,88.07 L260.14,87.85 L261.27,87.63 L262.41,87.42 L263.54,87.21 L264.67,87.01 L265.8,86.82 L266.93,86.62 L268.06,86.44 L269.19,86.26 L270.33,86.08 L271.46,85.9 L272.59,85.73 L273.72,85.56 L274.85,85.4 L275.98,85.24 L277.11,85.08 L278.25,84.93 L279.38,84.78 L280.51,84.63 L281.64,84.48 L282.77,84.34 L283.9,84.2 L285.03,84.06 L286.17,83.93 L287.3,83.8 L288.43,83.67 L289.56,83.54 L290.69,83.41 L291.82,83.29 L292.95,83.17 L294.09,83.05 L295.22,82.93 L296.35,82.81 L297.48,82.7 L298.61,82.58 L299.74,82.47 L300.87,82.36 L302.01,82.26 L303.14,82.15 L304.27,82.05 L305.4,81.94 L306.53,81.84 L307.66,81.74 L308.79,81.64 L309.93,81.55 L311.06,81.45 L312.19,81.36 L313.32,81.26 L314.45,81.17 L315.58,81.08 L316.71,80.99 L317.85,80.9 L318.98,80.81 L320.11,80.73 L321.24,80.64 L322.37,80.56 L323.5,80.47 L324.63,80.39 L325.77,80.31 L326.9,80.23 L328.03,80.15 L329.16,80.07 L330.29,79.99 L331.42,79.92 L332.55,79.84 L333.69,79.77 L334.82,79.69 L335.95,79.62 L337.08,79.55 L338.21,79.47 L339.34,79.4 L340.47,79.33 L341.61,79.26 L342.74,79.2 L343.87,79.13 L345,79.06" fill="none" stroke="#dd4433" stroke-width="1.3" stroke-linejoin="round" clip-path="url(#c1clip)"/>
<path d="M209,136.87 L209,136.28 L209,135.69 L209,135.1 L209,134.51 L209,133.92 L209,133.33 L209,132.74 L209,132.15 L209,131.56 L209,130.97 L209,130.38 L209.01,129.79 L209.01,129.2 L209.01,128.61 L209.01,128.02 L209.01,127.43 L209.01,126.84 L209.01,126.25 L209.01,125.66 L209.01,125.07 L209.02,124.48 L209.02,123.89 L209.02,123.3 L209.02,122.71 L209.03,122.12 L209.03,121.53 L209.03,120.94 L209.04,120.35 L209.04,119.76 L209.05,119.17 L209.05,118.58 L209.06,117.99 L209.06,117.4 L209.07,116.81 L209.08,116.22 L209.09,115.63 L209.1,115.04 L209.12,114.45 L209.13,113.86 L209.15,113.27 L209.17,112.68 L209.19,112.09 L209.21,111.5 L209.23,110.91 L209.26,110.33 L209.3,109.74 L209.33,109.15 L209.38,108.56 L209.42,107.97 L209.47,107.38 L209.53,106.79 L209.6,106.2 L209.67,105.61 L209.76,105.02 L209.85,104.43 L209.96,103.84 L210.08,103.25 L210.21,102.66 L210.36,102.07 L210.36,102.07 L211.49,99.02 L212.62,97.14 L213.75,95.77 L214.89,94.7 L216.02,93.81 L217.15,93.06 L218.28,92.41 L219.41,91.83 L220.54,91.31 L221.67,90.85 L222.81,90.42 L223.94,90.02 L225.07,89.66 L226.2,89.32 L227.33,89 L228.46,88.7 L229.59,88.41 L230.73,88.15 L231.86,87.89 L232.99,87.65 L234.12,87.42 L235.25,87.2 L236.38,86.99 L237.51,86.79 L238.65,86.6 L239.78,86.41 L240.91,86.23 L242.04,86.06 L243.17,85.89 L244.3,85.73 L245.43,85.57 L246.57,85.42 L247.7,85.27 L248.83,85.13 L249.96,84.99 L251.09,84.85 L252.22,84.72 L253.35,84.59 L254.49,84.47 L255.62,84.35 L256.75,84.23 L257.88,84.11 L259.01,84 L260.14,83.89 L261.27,83.78 L262.41,83.67 L263.54,83.57 L264.67,83.47 L265.8,83.37 L266.93,83.27 L268.06,83.18 L269.19,83.08 L270.33,82.99 L271.46,82.9 L272.59,82.81 L273.72,82.73 L274.85,82.64 L275.98,82.56 L277.11,82.48 L278.25,82.39 L279.38,82.31 L280.51,82.24 L281.64,82.16 L282.77,82.08 L283.9,82.01 L285.03,81.94 L286.17,81.86 L287.3,81.79 L288.43,81.72 L289.56,81.65 L290.69,81.58 L291.82,81.52 L292.95,81.45 L294.09,81.38 L295.22,81.32 L296.35,81.26 L297.48,81.19 L298.61,81.13 L299.74,81.07 L300.87,81.01 L302.01,80.95 L303.14,80.89 L304.27,80.83 L305.4,80.78 L306.53,80.72 L307.66,80.66 L308.79,80.61 L309.93,80.55 L311.06,80.5 L312.19,80.45 L313.32,80.39 L314.45,80.34 L315.58,80.29 L316.71,80.24 L317.85,80.19 L318.98,80.14 L320.11,80.09 L321.24,80.04 L322.37,79.99 L323.5,79.94 L324.63,79.89 L325.77,79.85 L326.9,79.8 L328.03,79.75 L329.16,79.71 L330.29,79.66 L331.42,79.62 L332.55,79.57 L333.69,79.53 L334.82,79.49 L335.95,79.44 L337.08,79.4 L338.21,79.36 L339.34,79.32 L340.47,79.28 L341.61,79.23 L342.74,79.19 L343.87,79.15 L345,79.11" fill="none" stroke="#3333cc" stroke-width="1.3" stroke-linejoin="round" clip-path="url(#c1clip)"/>
<path d="M209,130.34 L209,129.75 L209,129.16 L209,128.57 L209,127.98 L209,127.39 L209,126.8 L209,126.21 L209,125.62 L209,125.03 L209,124.44 L209,123.85 L209.01,123.26 L209.01,122.67 L209.01,122.08 L209.01,121.49 L209.01,120.9 L209.01,120.31 L209.01,119.72 L209.01,119.13 L209.01,118.54 L209.02,117.95 L209.02,117.36 L209.02,116.77 L209.02,116.18 L209.03,115.59 L209.03,115.01 L209.03,114.42 L209.04,113.83 L209.04,113.24 L209.05,112.65 L209.05,112.06 L209.06,111.47 L209.06,110.88 L209.07,110.29 L209.08,109.7 L209.09,109.11 L209.1,108.52 L209.12,107.93 L209.13,107.34 L209.15,106.75 L209.17,106.16 L209.19,105.57 L209.21,104.98 L209.23,104.39 L209.26,103.8 L209.3,103.21 L209.33,102.62 L209.38,102.03 L209.42,101.45 L209.47,100.86 L209.53,100.27 L209.6,99.68 L209.67,99.09 L209.76,98.5 L209.85,97.91 L209.96,97.33 L210.08,96.74 L210.21,96.15 L210.36,95.56 L210.36,95.56 L211.49,92.53 L212.62,90.67 L213.75,89.32 L214.89,88.26 L216.02,87.39 L217.15,86.66 L218.28,86.02 L219.41,85.46 L220.54,84.96 L221.67,84.51 L222.81,84.1 L223.94,83.72 L225.07,83.37 L226.2,83.04 L227.33,82.74 L228.46,82.46 L229.59,82.19 L230.73,81.94 L231.86,81.7 L232.99,81.48 L234.12,81.26 L235.25,81.06 L236.38,80.86 L237.51,80.68 L238.65,80.5 L239.78,80.33 L240.91,80.16 L242.04,80.01 L243.17,79.85 L244.3,79.71 L245.43,79.56 L246.57,79.43 L247.7,79.3 L248.83,79.17 L249.96,79.04 L251.09,78.92 L252.22,78.81 L253.35,78.69 L254.49,78.58 L255.62,78.48 L256.75,78.37 L257.88,78.27 L259.01,78.17 L260.14,78.08 L261.27,77.98 L262.41,77.89 L263.54,77.8 L264.67,77.71 L265.8,77.63 L266.93,77.55 L268.06,77.47 L269.19,77.39 L270.33,77.31 L271.46,77.23 L272.59,77.16 L273.72,77.08 L274.85,77.01 L275.98,76.94 L277.11,76.87 L278.25,76.81 L279.38,76.74 L280.51,76.68 L281.64,76.61 L282.77,76.55 L283.9,76.49 L285.03,76.43 L286.17,76.37 L287.3,76.31 L288.43,76.26 L289.56,76.2 L290.69,76.14 L291.82,76.09 L292.95,76.04 L294.09,75.98 L295.22,75.93 L296.35,75.88 L297.48,75.83 L298.61,75.78 L299.74,75.73 L300.87,75.69 L302.01,75.64 L303.14,75.59 L304.27,75.55 L305.4,75.5 L306.53,75.46 L307.66,75.42 L308.79,75.37 L309.93,75.33 L311.06,75.29 L312.19,75.25 L313.32,75.21 L314.45,75.17 L315.58,75.13 L316.71,75.09 L317.85,75.05 L318.98,75.01 L320.11,74.97 L321.24,74.94 L322.37,74.9 L323.5,74.87 L324.63,74.83 L325.77,74.79 L326.9,74.76 L328.03,74.73 L329.16,74.69 L330.29,74.66 L331.42,74.63 L332.55,74.59 L333.69,74.56 L334.82,74.53 L335.95,74.5 L337.08,74.47 L338.21,74.43 L339.34,74.4 L340.47,74.37 L341.61,74.34 L342.74,74.31 L343.87,74.29 L345,74.26" fill="none" stroke="#44bb44" stroke-width="1.3" stroke-linejoin="round" clip-path="url(#c1clip)"/>
<path d="M230.73,174.11 L231.86,172.9 L232.99,171.75 L234.12,170.65 L235.25,169.6 L236.38,168.59 L237.51,167.63 L238.65,166.7 L239.78,165.81 L240.91,164.95 L242.04,164.12 L243.17,163.32 L244.3,162.54 L245.43,161.79 L246.57,161.06 L247.7,160.35 L248.83,159.67 L249.96,159 L251.09,158.35 L252.22,157.72 L253.35,157.1 L254.49,156.5 L255.62,155.91 L256.75,155.34 L257.88,154.79 L259.01,154.24 L260.14,153.71 L261.27,153.19 L262.41,152.68 L263.54,152.18 L264.67,151.69 L265.8,151.21 L266.93,150.74 L268.06,150.28 L269.19,149.82 L270.33,149.38 L271.46,148.94 L272.59,148.52 L273.72,148.1 L274.85,147.68 L275.98,147.28 L277.11,146.88 L278.25,146.49 L279.38,146.1 L280.51,145.72 L281.64,145.35 L282.77,144.98 L283.9,144.61 L285.03,144.26 L286.17,143.91 L287.3,143.56 L288.43,143.22 L289.56,142.88 L290.69,142.55 L291.82,142.22 L292.95,141.9 L294.09,141.58 L295.22,141.26 L296.35,140.95 L297.48,140.65 L298.61,140.34 L299.74,140.04 L300.87,139.75 L302.01,139.46 L303.14,139.17 L304.27,138.88 L305.4,138.6 L306.53,138.32 L307.66,138.05 L308.79,137.78 L309.93,137.51 L311.06,137.24 L312.19,136.98 L313.32,136.72 L314.45,136.46 L315.58,136.21 L316.71,135.96 L317.85,135.71 L318.98,135.46 L320.11,135.22 L321.24,134.98 L322.37,134.74 L323.5,134.5 L324.63,134.27 L325.77,134.04 L326.9,133.81 L328.03,133.58 L329.16,133.35 L330.29,133.13 L331.42,132.91 L332.55,132.69 L333.69,132.47 L334.82,132.26 L335.95,132.04 L337.08,131.83 L338.21,131.62 L339.34,131.41 L340.47,131.21 L341.61,131 L342.74,130.8 L343.87,130.6 L345,130.4" fill="none" stroke="#2e5a32" stroke-width="1.3" stroke-linejoin="round" clip-path="url(#c1clip)"/>
<path d="M249.96,174.2 L251.09,173.38 L252.22,172.58 L253.35,171.81 L254.49,171.05 L255.62,170.31 L256.75,169.59 L257.88,168.89 L259.01,168.2 L260.14,167.53 L261.27,166.87 L262.41,166.23 L263.54,165.6 L264.67,164.98 L265.8,164.38 L266.93,163.79 L268.06,163.21 L269.19,162.64 L270.33,162.08 L271.46,161.53 L272.59,160.99 L273.72,160.46 L274.85,159.94 L275.98,159.43 L277.11,158.93 L278.25,158.43 L279.38,157.94 L280.51,157.46 L281.64,156.99 L282.77,156.53 L283.9,156.07 L285.03,155.62 L286.17,155.18 L287.3,154.74 L288.43,154.31 L289.56,153.89 L290.69,153.47 L291.82,153.05 L292.95,152.65 L294.09,152.25 L295.22,151.85 L296.35,151.46 L297.48,151.07 L298.61,150.69 L299.74,150.31 L300.87,149.94 L302.01,149.57 L303.14,149.21 L304.27,148.85 L305.4,148.5 L306.53,148.15 L307.66,147.8 L308.79,147.46 L309.93,147.12 L311.06,146.78 L312.19,146.45 L313.32,146.13 L314.45,145.8 L315.58,145.48 L316.71,145.16 L317.85,144.85 L318.98,144.54 L320.11,144.23 L321.24,143.93 L322.37,143.63 L323.5,143.33 L324.63,143.03 L325.77,142.74 L326.9,142.45 L328.03,142.17 L329.16,141.88 L330.29,141.6 L331.42,141.32 L332.55,141.05 L333.69,140.77 L334.82,140.5 L335.95,140.23 L337.08,139.97 L338.21,139.7 L339.34,139.44 L340.47,139.18 L341.61,138.92 L342.74,138.67 L343.87,138.41 L345,138.16" fill="none" stroke="#f0aa33" stroke-width="1.3" stroke-linejoin="round" clip-path="url(#c1clip)"/>
<text x="196.8" y="59.1" font-size="7.8" text-anchor="end" fill="#111">10</text>
<text x="197.2" y="54.5" font-size="5.8" fill="#111">6</text>
<text x="196.8" y="82.3" font-size="7.8" text-anchor="end" fill="#111">10</text>
<text x="197.2" y="77.7" font-size="5.8" fill="#111">4</text>
<text x="196.8" y="105.5" font-size="7.8" text-anchor="end" fill="#111">10</text>
<text x="197.2" y="100.9" font-size="5.8" fill="#111">2</text>
<text x="196.8" y="128.7" font-size="7.8" text-anchor="end" fill="#111">10</text>
<text x="197.2" y="124.1" font-size="5.8" fill="#111">0</text>
<text x="196.8" y="151.9" font-size="7.8" text-anchor="end" fill="#111">10</text>
<text x="197.2" y="147.3" font-size="5.8" fill="#111">-2</text>
<text x="196.8" y="175.1" font-size="7.8" text-anchor="end" fill="#111">10</text>
<text x="197.2" y="170.5" font-size="5.8" fill="#111">-4</text>
<text x="351.3" y="59.4" font-size="8.6" fill="#111">10</text>
<text x="362" y="54.5" font-size="6.4" fill="#111">2</text>
<text x="351.3" y="82.6" font-size="8.6" fill="#111">10</text>
<text x="362" y="77.7" font-size="6.4" fill="#111">0</text>
<text x="351.3" y="105.8" font-size="8.6" fill="#111">10</text>
<text x="362" y="100.9" font-size="6.4" fill="#111">-2</text>
<text x="351.3" y="129" font-size="8.6" fill="#111">10</text>
<text x="362" y="124.1" font-size="6.4" fill="#111">-4</text>
<text x="351.3" y="152.2" font-size="8.6" fill="#111">10</text>
<text x="362" y="147.3" font-size="6.4" fill="#111">-6</text>
<text x="351.3" y="175.4" font-size="8.6" fill="#111">10</text>
<text x="362" y="170.5" font-size="6.4" fill="#111">-8</text>
<text x="209.6" y="184.2" font-size="8.2" text-anchor="middle" fill="#111">0</text>
<text x="236.8" y="184.2" font-size="8.2" text-anchor="middle" fill="#111">2</text>
<text x="264" y="184.2" font-size="8.2" text-anchor="middle" fill="#111">4</text>
<text x="291.2" y="184.2" font-size="8.2" text-anchor="middle" fill="#111">6</text>
<text x="318.4" y="184.2" font-size="8.2" text-anchor="middle" fill="#111">8</text>
<text x="345.6" y="184.2" font-size="8.2" text-anchor="middle" fill="#111">10</text>
<text x="276.6" y="198.6" font-size="9.85" text-anchor="middle" fill="#111">Irradiation Time (years)</text>
<text transform="translate(178.8,112.2) rotate(-90)" font-size="9.4" text-anchor="middle" fill="#111" style="stroke-width:0.15px">Concentration (appm)</text>
<text transform="translate(382.4,111.9) rotate(-90)" font-size="9.65" text-anchor="middle" fill="#111" style="stroke-width:0.15px">Concentration (at.%)</text>
<text x="405.2" y="60.4" font-size="8.6" text-anchor="end" fill="#111" style="stroke-width:0.15px">W</text>
<line x1="409.7" y1="57.3" x2="426" y2="57.3" stroke="#111" stroke-width="1.2"/>
<text x="405.2" y="67.85" font-size="8.6" text-anchor="end" fill="#111" style="stroke-width:0.15px">Re</text>
<line x1="409.7" y1="64.75" x2="426" y2="64.75" stroke="#44bb44" stroke-width="1.2"/>
<text x="405.2" y="75.3" font-size="8.6" text-anchor="end" fill="#111" style="stroke-width:0.15px">Os</text>
<line x1="409.7" y1="72.2" x2="426" y2="72.2" stroke="#dd4433" stroke-width="1.2"/>
<text x="405.2" y="82.75" font-size="8.6" text-anchor="end" fill="#111" style="stroke-width:0.15px">Ta</text>
<line x1="409.7" y1="79.65" x2="426" y2="79.65" stroke="#3333cc" stroke-width="1.2"/>
<text x="405.2" y="90.2" font-size="8.6" text-anchor="end" fill="#111" style="stroke-width:0.15px">Hf</text>
<line x1="409.7" y1="87.1" x2="426" y2="87.1" stroke="#8a6e46" stroke-width="1.2"/>
<text x="405.2" y="97.65" font-size="8.6" text-anchor="end" fill="#111" style="stroke-width:0.15px">H</text>
<line x1="409.7" y1="94.55" x2="426" y2="94.55" stroke="#dd55dd" stroke-width="1.2"/>
<text x="405.2" y="105.1" font-size="8.6" text-anchor="end" fill="#111" style="stroke-width:0.15px">He</text>
<line x1="409.7" y1="102" x2="426" y2="102" stroke="#44cccc" stroke-width="1.2"/>
<text x="405.2" y="112.55" font-size="8.6" text-anchor="end" fill="#111" style="stroke-width:0.15px">Ir</text>
<line x1="409.7" y1="109.45" x2="426" y2="109.45" stroke="#2e5a32" stroke-width="1.2"/>
<text x="405.2" y="120" font-size="8.6" text-anchor="end" fill="#111" style="stroke-width:0.15px">Pt</text>
<line x1="409.7" y1="116.9" x2="426" y2="116.9" stroke="#f0aa33" stroke-width="1.2"/>
<defs><radialGradient id="sph" cx="0.36" cy="0.32" r="0.68" fx="0.34" fy="0.3"><stop offset="0" stop-color="#e0f4f4"/><stop offset="0.25" stop-color="#7cc2c2"/><stop offset="0.62" stop-color="#4a9c9e"/><stop offset="0.86" stop-color="#2a6a6c"/><stop offset="1" stop-color="#0e2c2e"/></radialGradient></defs>
<path d="M454.9,13.4 L454.9,224 M466.4,15.9 L466.4,224 M474.3,12.9 L474.3,224" stroke="#8a8a8a" stroke-width="0.9" fill="none"/>
<path d="M454.9,13.4 L462.9,9.9 L474.3,12.9 L466.4,15.9 Z" stroke="#8a8a8a" stroke-width="0.8" fill="none" stroke-linejoin="round"/>
<path d="M462.5,10.5 L462.5,19" stroke="#999" stroke-width="0.7"/>
<line x1="462.1" y1="27" x2="462.1" y2="70" stroke="#777" stroke-width="0.8" stroke-dasharray="8,5"/>
<line x1="446.6" y1="14.5" x2="446.6" y2="68.5" stroke="#777" stroke-width="0.6"/>
<line x1="443.8" y1="14.3" x2="449.6" y2="14.3" stroke="#222" stroke-width="0.7"/>
<line x1="443.8" y1="68.8" x2="449.6" y2="68.8" stroke="#222" stroke-width="0.7"/>
<path d="M446.6,14.5 L445,20 L448.2,20 Z M446.6,68.6 L445,63.2 L448.2,63.2 Z" fill="#111"/>
<text x="443.5" y="46.5" font-family='"Liberation Serif", serif' font-size="9.4" text-anchor="end" fill="#222">10Å</text>
<text x="444.7" y="225.4" font-family='"Liberation Serif", serif' font-size="10.2" text-anchor="middle" fill="#222" stroke="#222" stroke-width="0.2">1</text>
<text x="444.7" y="212.09" font-family='"Liberation Serif", serif' font-size="10.2" text-anchor="middle" fill="#222" stroke="#222" stroke-width="0.2">2</text>
<text x="444.7" y="198.78" font-family='"Liberation Serif", serif' font-size="10.2" text-anchor="middle" fill="#222" stroke="#222" stroke-width="0.2">3</text>
<text x="444.7" y="185.47" font-family='"Liberation Serif", serif' font-size="10.2" text-anchor="middle" fill="#222" stroke="#222" stroke-width="0.2">4</text>
<text x="444.7" y="172.16" font-family='"Liberation Serif", serif' font-size="10.2" text-anchor="middle" fill="#222" stroke="#222" stroke-width="0.2">5</text>
<text x="444.7" y="158.85" font-family='"Liberation Serif", serif' font-size="10.2" text-anchor="middle" fill="#222" stroke="#222" stroke-width="0.2">6</text>
<text x="444.7" y="145.54" font-family='"Liberation Serif", serif' font-size="10.2" text-anchor="middle" fill="#222" stroke="#222" stroke-width="0.2">7</text>
<text x="444.7" y="132.23" font-family='"Liberation Serif", serif' font-size="10.2" text-anchor="middle" fill="#222" stroke="#222" stroke-width="0.2">8</text>
<text x="444.7" y="118.92" font-family='"Liberation Serif", serif' font-size="10.2" text-anchor="middle" fill="#222" stroke="#222" stroke-width="0.2">9</text>
<text x="444.7" y="105.61" font-family='"Liberation Serif", serif' font-size="10.2" text-anchor="middle" fill="#222" stroke="#222" stroke-width="0.2">10</text>
<text x="444.7" y="92.3" font-family='"Liberation Serif", serif' font-size="10.2" text-anchor="middle" fill="#222" stroke="#222" stroke-width="0.2">11</text>
<text x="444.7" y="78.99" font-family='"Liberation Serif", serif' font-size="10.2" text-anchor="middle" fill="#222" stroke="#222" stroke-width="0.2">12</text>
<circle cx="462.6" cy="218.4" r="4.8" fill="url(#sph)" stroke="#1e4a4c" stroke-width="0.45"/>
<circle cx="454.9" cy="221.8" r="4.8" fill="url(#sph)" stroke="#1e4a4c" stroke-width="0.45"/>
<circle cx="474.4" cy="221.4" r="4.8" fill="url(#sph)" stroke="#1e4a4c" stroke-width="0.45"/>
<circle cx="466.7" cy="225.3" r="4.8" fill="url(#sph)" stroke="#1e4a4c" stroke-width="0.45"/>
<circle cx="464.5" cy="208.49" r="4.8" fill="url(#sph)" stroke="#1e4a4c" stroke-width="0.45"/>
<circle cx="462.6" cy="191.78" r="4.8" fill="url(#sph)" stroke="#1e4a4c" stroke-width="0.45"/>
<circle cx="454.9" cy="195.18" r="4.8" fill="url(#sph)" stroke="#1e4a4c" stroke-width="0.45"/>
<circle cx="474.4" cy="194.78" r="4.8" fill="url(#sph)" stroke="#1e4a4c" stroke-width="0.45"/>
<circle cx="466.7" cy="198.68" r="4.8" fill="url(#sph)" stroke="#1e4a4c" stroke-width="0.45"/>
<circle cx="464.5" cy="181.87" r="4.8" fill="url(#sph)" stroke="#1e4a4c" stroke-width="0.45"/>
<circle cx="462.6" cy="165.16" r="4.8" fill="url(#sph)" stroke="#1e4a4c" stroke-width="0.45"/>
<circle cx="454.9" cy="168.56" r="4.8" fill="url(#sph)" stroke="#1e4a4c" stroke-width="0.45"/>
<circle cx="474.4" cy="168.16" r="4.8" fill="url(#sph)" stroke="#1e4a4c" stroke-width="0.45"/>
<circle cx="466.7" cy="172.06" r="4.8" fill="url(#sph)" stroke="#1e4a4c" stroke-width="0.45"/>
<circle cx="464.5" cy="155.25" r="4.8" fill="url(#sph)" stroke="#1e4a4c" stroke-width="0.45"/>
<circle cx="462.6" cy="138.54" r="4.8" fill="url(#sph)" stroke="#1e4a4c" stroke-width="0.45"/>
<circle cx="454.9" cy="141.94" r="4.8" fill="url(#sph)" stroke="#1e4a4c" stroke-width="0.45"/>
<circle cx="474.4" cy="141.54" r="4.8" fill="url(#sph)" stroke="#1e4a4c" stroke-width="0.45"/>
<circle cx="466.7" cy="145.44" r="4.8" fill="url(#sph)" stroke="#1e4a4c" stroke-width="0.45"/>
<circle cx="464.5" cy="128.63" r="4.8" fill="url(#sph)" stroke="#1e4a4c" stroke-width="0.45"/>
<circle cx="462.6" cy="111.92" r="4.8" fill="url(#sph)" stroke="#1e4a4c" stroke-width="0.45"/>
<circle cx="454.9" cy="115.32" r="4.8" fill="url(#sph)" stroke="#1e4a4c" stroke-width="0.45"/>
<circle cx="474.4" cy="114.92" r="4.8" fill="url(#sph)" stroke="#1e4a4c" stroke-width="0.45"/>
<circle cx="466.7" cy="118.82" r="4.8" fill="url(#sph)" stroke="#1e4a4c" stroke-width="0.45"/>
<circle cx="464.5" cy="102.01" r="4.8" fill="url(#sph)" stroke="#1e4a4c" stroke-width="0.45"/>
<circle cx="462.6" cy="85.3" r="4.8" fill="url(#sph)" stroke="#1e4a4c" stroke-width="0.45"/>
<circle cx="454.9" cy="88.7" r="4.8" fill="url(#sph)" stroke="#1e4a4c" stroke-width="0.45"/>
<circle cx="474.4" cy="88.3" r="4.8" fill="url(#sph)" stroke="#1e4a4c" stroke-width="0.45"/>
<circle cx="466.7" cy="92.2" r="4.8" fill="url(#sph)" stroke="#1e4a4c" stroke-width="0.45"/>
<circle cx="464.5" cy="75.39" r="4.8" fill="url(#sph)" stroke="#1e4a4c" stroke-width="0.45"/>
<path d="M393.9,213 L393.9,192 M393.9,213 L411.5,217.5 M393.9,213 L379,220" stroke="#444" stroke-width="0.7" fill="none"/>
<path d="M393.9,189 L392.5,194 L395.3,194 Z M415,218.3 L410.5,215.8 L409.8,218.9 Z M376.2,221.2 L380.3,218.2 L381.2,221.1 Z" fill="#111"/>
<text x="393.6" y="184.8" font-family='"Liberation Serif", serif' font-size="9.6" text-anchor="middle" fill="#333">[110]</text>
<line x1="386.6" y1="176.8" x2="390.2" y2="176.8" stroke="#333" stroke-width="0.55"/>
<text x="417" y="227" font-family='"Liberation Serif", serif' font-size="9.6" fill="#333">[111]</text>
<line x1="430.4" y1="219" x2="434" y2="219" stroke="#333" stroke-width="0.55"/>
<text x="373.2" y="228" font-family='"Liberation Serif", serif' font-size="9.6" text-anchor="end" fill="#333">[111]</text>
<rect x="45.2" y="243" width="184.8" height="130.6" fill="none" stroke="#a0a0a0" stroke-width="1"/>
<line x1="45.2" y1="340.95" x2="47.2" y2="340.95" stroke="#bbb" stroke-width="0.8"/>
<line x1="230" y1="340.95" x2="228" y2="340.95" stroke="#bbb" stroke-width="0.8"/>
<line x1="45.2" y1="308.3" x2="47.2" y2="308.3" stroke="#bbb" stroke-width="0.8"/>
<line x1="230" y1="308.3" x2="228" y2="308.3" stroke="#bbb" stroke-width="0.8"/>
<line x1="45.2" y1="275.65" x2="47.2" y2="275.65" stroke="#bbb" stroke-width="0.8"/>
<line x1="230" y1="275.65" x2="228" y2="275.65" stroke="#bbb" stroke-width="0.8"/>
<line x1="82.16" y1="373.6" x2="82.16" y2="371.6" stroke="#bbb" stroke-width="0.8"/>
<line x1="82.16" y1="243" x2="82.16" y2="245" stroke="#bbb" stroke-width="0.8"/>
<line x1="119.12" y1="373.6" x2="119.12" y2="371.6" stroke="#bbb" stroke-width="0.8"/>
<line x1="119.12" y1="243" x2="119.12" y2="245" stroke="#bbb" stroke-width="0.8"/>
<line x1="156.08" y1="373.6" x2="156.08" y2="371.6" stroke="#bbb" stroke-width="0.8"/>
<line x1="156.08" y1="243" x2="156.08" y2="245" stroke="#bbb" stroke-width="0.8"/>
<line x1="193.04" y1="373.6" x2="193.04" y2="371.6" stroke="#bbb" stroke-width="0.8"/>
<line x1="193.04" y1="243" x2="193.04" y2="245" stroke="#bbb" stroke-width="0.8"/>
<text x="39" y="377.4" font-size="8.7" text-anchor="end" fill="#111">142</text>
<text x="39" y="344.75" font-size="8.7" text-anchor="end" fill="#111">143</text>
<text x="39" y="312.1" font-size="8.7" text-anchor="end" fill="#111">144</text>
<text x="39" y="279.45" font-size="8.7" text-anchor="end" fill="#111">145</text>
<text x="39" y="246.8" font-size="8.7" text-anchor="end" fill="#111">146</text>
<text x="45.7" y="387.3" font-size="8.6" text-anchor="middle" fill="#111">0</text>
<text x="82.66" y="387.3" font-size="8.6" text-anchor="middle" fill="#111">2</text>
<text x="119.62" y="387.3" font-size="8.6" text-anchor="middle" fill="#111">4</text>
<text x="156.58" y="387.3" font-size="8.6" text-anchor="middle" fill="#111">6</text>
<text x="193.54" y="387.3" font-size="8.6" text-anchor="middle" fill="#111">8</text>
<text x="230.5" y="387.3" font-size="8.6" text-anchor="middle" fill="#111">10</text>
<text x="137.3" y="397.5" font-size="9.9" text-anchor="middle" fill="#111">Irradiation Time (years)</text>
<text transform="translate(14.6,309.6) rotate(-90)" font-size="10.2" text-anchor="middle" fill="#111">C<tspan font-size="7.3" dy="2.2">44</tspan><tspan dy="-2.2"> (GPa)</tspan></text>
<line x1="45.2" y1="358.91" x2="230" y2="358.91" stroke="#555" stroke-width="1.2" stroke-dasharray="2,3.5"/>
<path d="M45.2,358.91 L63.68,352.05 L82.16,348.79 L100.64,344.87 L119.12,340.95 L137.6,333.11 L156.08,326.58 L174.56,320.05 L193.04,314.83 L211.52,309.93 L230,304.71" fill="none" stroke="#88dd88" stroke-width="1.1"/>
<path d="M45.2,358.91 L63.68,351.07 L82.16,343.56 L100.64,336.71 L119.12,328.87 L137.6,320.05 L156.08,310.91 L174.56,301.77 L193.04,292.63 L211.52,283.81 L230,273.36" fill="none" stroke="#77c8f0" stroke-width="1.1"/>
<path d="M45.2,358.91 L63.68,351.4 L82.16,344.21 L100.64,337.69 L119.12,329.52 L137.6,320.71 L156.08,312.22 L174.56,303.4 L193.04,294.26 L211.52,285.45 L230,275.65" fill="none" stroke="#f07448" stroke-width="1.2"/>
<path d="M45.2,355.31 L48.6,361.31 L41.8,361.31 Z" fill="none" stroke="#88dd88" stroke-width="0.9"/>
<path d="M63.68,348.45 L67.08,354.45 L60.28,354.45 Z" fill="none" stroke="#88dd88" stroke-width="0.9"/>
<path d="M82.16,345.19 L85.56,351.19 L78.76,351.19 Z" fill="none" stroke="#88dd88" stroke-width="0.9"/>
<path d="M100.64,341.27 L104.04,347.27 L97.24,347.27 Z" fill="none" stroke="#88dd88" stroke-width="0.9"/>
<path d="M119.12,337.35 L122.52,343.35 L115.72,343.35 Z" fill="none" stroke="#88dd88" stroke-width="0.9"/>
<path d="M137.6,329.51 L141,335.51 L134.2,335.51 Z" fill="none" stroke="#88dd88" stroke-width="0.9"/>
<path d="M156.08,322.98 L159.48,328.98 L152.68,328.98 Z" fill="none" stroke="#88dd88" stroke-width="0.9"/>
<path d="M174.56,316.45 L177.96,322.45 L171.16,322.45 Z" fill="none" stroke="#88dd88" stroke-width="0.9"/>
<path d="M193.04,311.23 L196.44,317.23 L189.64,317.23 Z" fill="none" stroke="#88dd88" stroke-width="0.9"/>
<path d="M211.52,306.33 L214.92,312.33 L208.12,312.33 Z" fill="none" stroke="#88dd88" stroke-width="0.9"/>
<path d="M230,301.11 L233.4,307.11 L226.6,307.11 Z" fill="none" stroke="#88dd88" stroke-width="0.9"/>
<path d="M45.2,355.71 L48.2,358.91 L45.2,362.11 L42.2,358.91 Z" fill="none" stroke="#77c8f0" stroke-width="0.9"/>
<path d="M63.68,347.87 L66.68,351.07 L63.68,354.27 L60.68,351.07 Z" fill="none" stroke="#77c8f0" stroke-width="0.9"/>
<path d="M82.16,340.36 L85.16,343.56 L82.16,346.76 L79.16,343.56 Z" fill="none" stroke="#77c8f0" stroke-width="0.9"/>
<path d="M100.64,333.51 L103.64,336.71 L100.64,339.91 L97.64,336.71 Z" fill="none" stroke="#77c8f0" stroke-width="0.9"/>
<path d="M119.12,325.67 L122.12,328.87 L119.12,332.07 L116.12,328.87 Z" fill="none" stroke="#77c8f0" stroke-width="0.9"/>
<path d="M137.6,316.85 L140.6,320.05 L137.6,323.25 L134.6,320.05 Z" fill="none" stroke="#77c8f0" stroke-width="0.9"/>
<path d="M156.08,307.71 L159.08,310.91 L156.08,314.11 L153.08,310.91 Z" fill="none" stroke="#77c8f0" stroke-width="0.9"/>
<path d="M174.56,298.57 L177.56,301.77 L174.56,304.97 L171.56,301.77 Z" fill="none" stroke="#77c8f0" stroke-width="0.9"/>
<path d="M193.04,289.43 L196.04,292.63 L193.04,295.83 L190.04,292.63 Z" fill="none" stroke="#77c8f0" stroke-width="0.9"/>
<path d="M211.52,280.61 L214.52,283.81 L211.52,287.01 L208.52,283.81 Z" fill="none" stroke="#77c8f0" stroke-width="0.9"/>
<path d="M230,270.16 L233,273.36 L230,276.56 L227,273.36 Z" fill="none" stroke="#77c8f0" stroke-width="0.9"/>
<circle cx="45.2" cy="358.91" r="4.3" fill="#f07448" stroke="#e86030" stroke-width="0.5"/>
<circle cx="63.68" cy="351.4" r="4.3" fill="#f07448" stroke="#e86030" stroke-width="0.5"/>
<circle cx="82.16" cy="344.21" r="4.3" fill="#f07448" stroke="#e86030" stroke-width="0.5"/>
<circle cx="100.64" cy="337.69" r="4.3" fill="#f07448" stroke="#e86030" stroke-width="0.5"/>
<circle cx="119.12" cy="329.52" r="4.3" fill="#f07448" stroke="#e86030" stroke-width="0.5"/>
<circle cx="137.6" cy="320.71" r="4.3" fill="#f07448" stroke="#e86030" stroke-width="0.5"/>
<circle cx="156.08" cy="312.22" r="4.3" fill="#f07448" stroke="#e86030" stroke-width="0.5"/>
<circle cx="174.56" cy="303.4" r="4.3" fill="#f07448" stroke="#e86030" stroke-width="0.5"/>
<circle cx="193.04" cy="294.26" r="4.3" fill="#f07448" stroke="#e86030" stroke-width="0.5"/>
<circle cx="211.52" cy="285.45" r="4.3" fill="#f07448" stroke="#e86030" stroke-width="0.5"/>
<circle cx="230" cy="275.65" r="4.3" fill="#f07448" stroke="#e86030" stroke-width="0.5"/>
<text x="81" y="251.9" font-size="8.6" fill="#111">W</text>
<text x="81" y="259.6" font-size="8.6" fill="#111">W with Re</text>
<text x="81" y="267.2" font-size="8.6" fill="#111">W with Re,Os,Ta</text>
<text x="81" y="274.9" font-size="8.6" fill="#111">All transmutants</text>
<line x1="56" y1="248.9" x2="76.2" y2="248.9" stroke="#555" stroke-width="1.2" stroke-dasharray="2,3.5"/>
<line x1="55.8" y1="256.6" x2="76.2" y2="256.6" stroke="#88dd88" stroke-width="1.1"/>
<path d="M66.1,253 L69.5,259 L62.7,259 Z" fill="#fff" stroke="#88dd88" stroke-width="0.9"/>
<line x1="55.8" y1="264.2" x2="76.2" y2="264.2" stroke="#77c8f0" stroke-width="1.1"/>
<path d="M66.1,261 L69.1,264.2 L66.1,267.4 L63.1,264.2 Z" fill="#fff" stroke="#77c8f0" stroke-width="0.9"/>
<line x1="55.8" y1="271.9" x2="76.2" y2="271.9" stroke="#f07448" stroke-width="1.2"/>
<circle cx="66.1" cy="271.9" r="4.3" fill="#f07448"/>
<rect x="285.3" y="241.5" width="197.8" height="135.5" fill="none" stroke="#a0a0a0" stroke-width="1"/>
<line x1="285.3" y1="346.3" x2="287.3" y2="346.3" stroke="#bbb" stroke-width="0.8"/>
<line x1="483.1" y1="346.3" x2="481.1" y2="346.3" stroke="#bbb" stroke-width="0.8"/>
<line x1="285.3" y1="315.6" x2="287.3" y2="315.6" stroke="#bbb" stroke-width="0.8"/>
<line x1="483.1" y1="315.6" x2="481.1" y2="315.6" stroke="#bbb" stroke-width="0.8"/>
<line x1="285.3" y1="284.9" x2="287.3" y2="284.9" stroke="#bbb" stroke-width="0.8"/>
<line x1="483.1" y1="284.9" x2="481.1" y2="284.9" stroke="#bbb" stroke-width="0.8"/>
<line x1="324.86" y1="377" x2="324.86" y2="375" stroke="#bbb" stroke-width="0.8"/>
<line x1="324.86" y1="241.5" x2="324.86" y2="243.5" stroke="#bbb" stroke-width="0.8"/>
<line x1="364.42" y1="377" x2="364.42" y2="375" stroke="#bbb" stroke-width="0.8"/>
<line x1="364.42" y1="241.5" x2="364.42" y2="243.5" stroke="#bbb" stroke-width="0.8"/>
<line x1="403.98" y1="377" x2="403.98" y2="375" stroke="#bbb" stroke-width="0.8"/>
<line x1="403.98" y1="241.5" x2="403.98" y2="243.5" stroke="#bbb" stroke-width="0.8"/>
<line x1="443.54" y1="377" x2="443.54" y2="375" stroke="#bbb" stroke-width="0.8"/>
<line x1="443.54" y1="241.5" x2="443.54" y2="243.5" stroke="#bbb" stroke-width="0.8"/>
<text x="281" y="380.1" font-size="8.7" text-anchor="end" fill="#111">0.0</text>
<text x="281" y="349.4" font-size="8.7" text-anchor="end" fill="#111">0.5</text>
<text x="281" y="318.7" font-size="8.7" text-anchor="end" fill="#111">1.0</text>
<text x="281" y="288" font-size="8.7" text-anchor="end" fill="#111">1.5</text>
<text x="281" y="257.3" font-size="8.7" text-anchor="end" fill="#111">2.0</text>
<text x="285.9" y="388.7" font-size="8.7" text-anchor="middle" fill="#111">0</text>
<text x="325.46" y="388.7" font-size="8.7" text-anchor="middle" fill="#111">0.2</text>
<text x="365.02" y="388.7" font-size="8.7" text-anchor="middle" fill="#111">0.4</text>
<text x="404.58" y="388.7" font-size="8.7" text-anchor="middle" fill="#111">0.6</text>
<text x="444.14" y="388.7" font-size="8.7" text-anchor="middle" fill="#111">0.8</text>
<text x="483.7" y="388.7" font-size="8.7" text-anchor="middle" fill="#111">1</text>
<text x="384.5" y="398.4" font-size="10" text-anchor="middle" fill="#111">Displacement along &lt;111&gt;</text>
<text transform="translate(266.5,308.5) rotate(-90)" font-size="10.5" text-anchor="middle" fill="#111">GSFE (J/m<tspan font-size="7" dy="-3.5">2</tspan><tspan dy="3.5">)</tspan></text>
<path d="M285.3,377 L286.26,376.31 L287.45,375.53 L288.85,374.64 L290.43,373.66 L292.14,372.56 L293.95,371.36 L295.84,370.04 L297.75,368.61 L299.67,367.06 L301.55,365.38 L303.37,363.58 L305.08,361.65 L306.73,359.53 L308.38,357.19 L310.03,354.66 L311.67,351.98 L313.32,349.18 L314.97,346.29 L316.62,343.35 L318.27,340.4 L319.92,337.47 L321.56,334.58 L323.21,331.78 L324.86,329.11 L326.51,326.49 L328.16,323.83 L329.81,321.17 L331.45,318.51 L333.1,315.87 L334.75,313.26 L336.4,310.7 L338.05,308.2 L339.69,305.79 L341.34,303.46 L342.99,301.24 L344.64,299.14 L346.29,297.15 L347.94,295.24 L349.58,293.4 L351.23,291.63 L352.88,289.95 L354.53,288.34 L356.18,286.82 L357.83,285.37 L359.48,284.01 L361.12,282.73 L362.77,281.53 L364.42,280.42 L366.07,279.38 L367.72,278.42 L369.37,277.53 L371.01,276.72 L372.66,275.99 L374.31,275.34 L375.96,274.79 L377.61,274.33 L379.26,273.96 L380.9,273.7 L382.55,273.53 L384.2,273.48 L385.85,273.53 L387.5,273.7 L389.15,273.96 L390.79,274.33 L392.44,274.79 L394.09,275.34 L395.74,275.99 L397.39,276.72 L399.03,277.53 L400.68,278.42 L402.33,279.38 L403.98,280.42 L405.63,281.53 L407.28,282.73 L408.93,284.01 L410.57,285.37 L412.22,286.82 L413.87,288.34 L415.52,289.95 L417.17,291.63 L418.81,293.4 L420.46,295.24 L422.11,297.15 L423.76,299.14 L425.41,301.24 L427.06,303.46 L428.7,305.79 L430.35,308.2 L432,310.7 L433.65,313.26 L435.3,315.87 L436.95,318.51 L438.59,321.17 L440.24,323.83 L441.89,326.49 L443.54,329.11 L445.19,331.78 L446.84,334.58 L448.49,337.47 L450.13,340.4 L451.78,343.35 L453.43,346.29 L455.08,349.18 L456.73,351.98 L458.38,354.66 L460.02,357.19 L461.67,359.53 L463.32,361.65 L465.03,363.58 L466.85,365.38 L468.73,367.06 L470.65,368.61 L472.56,370.04 L474.45,371.36 L476.26,372.56 L477.97,373.66 L479.55,374.64 L480.95,375.53 L482.14,376.31 L483.1,377" fill="none" stroke="#555" stroke-width="1.1" stroke-dasharray="3,2"/>
<path d="M285.3,377 L286.26,376.31 L287.45,375.53 L288.85,374.64 L290.43,373.66 L292.14,372.56 L293.95,371.36 L295.84,370.04 L297.75,368.61 L299.67,367.06 L301.55,365.38 L303.37,363.58 L305.08,361.65 L306.73,359.53 L308.38,357.19 L310.03,354.66 L311.67,351.98 L313.32,349.18 L314.97,346.29 L316.62,343.35 L318.27,340.4 L319.92,337.47 L321.56,334.58 L323.21,331.78 L324.86,329.11 L326.51,326.49 L328.16,323.83 L329.81,321.17 L331.45,318.51 L333.1,315.87 L334.75,313.26 L336.4,310.7 L338.05,308.2 L339.69,305.79 L341.34,303.46 L342.99,301.24 L344.64,299.14 L346.29,297.15 L347.94,295.24 L349.58,293.4 L351.23,291.63 L352.88,289.95 L354.53,288.34 L356.18,286.82 L357.83,285.37 L359.48,284.01 L361.12,282.73 L362.77,281.53 L364.42,280.42 L366.07,279.38 L367.72,278.42 L369.37,277.53 L371.01,276.72 L372.66,275.99 L374.31,275.34 L375.96,274.79 L377.61,274.33 L379.26,273.96 L380.9,273.7 L382.55,273.53 L384.2,273.48 L385.85,273.53 L387.5,273.7 L389.15,273.96 L390.79,274.33 L392.44,274.79 L394.09,275.34 L395.74,275.99 L397.39,276.72 L399.03,277.53 L400.68,278.42 L402.33,279.38 L403.98,280.42 L405.63,281.53 L407.28,282.73 L408.93,284.01 L410.57,285.37 L412.22,286.82 L413.87,288.34 L415.52,289.95 L417.17,291.63 L418.81,293.4 L420.46,295.24 L422.11,297.15 L423.76,299.14 L425.41,301.24 L427.06,303.46 L428.7,305.79 L430.35,308.2 L432,310.7 L433.65,313.26 L435.3,315.87 L436.95,318.51 L438.59,321.17 L440.24,323.83 L441.89,326.49 L443.54,329.11 L445.19,331.78 L446.84,334.58 L448.49,337.47 L450.13,340.4 L451.78,343.35 L453.43,346.29 L455.08,349.18 L456.73,351.98 L458.38,354.66 L460.02,357.19 L461.67,359.53 L463.32,361.65 L465.03,363.58 L466.85,365.38 L468.73,367.06 L470.65,368.61 L472.56,370.04 L474.45,371.36 L476.26,372.56 L477.97,373.66 L479.55,374.64 L480.95,375.53 L482.14,376.31 L483.1,377" fill="none" stroke="#9be39b" stroke-width="1.1"/>
<path d="M285.3,377 L286.26,376.31 L287.45,375.53 L288.85,374.64 L290.43,373.66 L292.14,372.56 L293.95,371.36 L295.84,370.04 L297.75,368.61 L299.67,367.06 L301.55,365.38 L303.37,363.58 L305.08,361.65 L306.73,359.53 L308.38,357.19 L310.03,354.66 L311.67,351.98 L313.32,349.18 L314.97,346.29 L316.62,343.35 L318.27,340.4 L319.92,337.47 L321.56,334.58 L323.21,331.78 L324.86,329.11 L326.51,326.49 L328.16,323.83 L329.81,321.17 L331.45,318.51 L333.1,315.87 L334.75,313.26 L336.4,310.7 L338.05,308.2 L339.69,305.79 L341.34,303.46 L342.99,301.24 L344.64,299.14 L346.29,297.15 L347.94,295.24 L349.58,293.4 L351.23,291.63 L352.88,289.95 L354.53,288.34 L356.18,286.82 L357.83,285.37 L359.48,284.01 L361.12,282.73 L362.77,281.53 L364.42,280.42 L366.07,279.38 L367.72,278.42 L369.37,277.53 L371.01,276.72 L372.66,275.99 L374.31,275.34 L375.96,274.79 L377.61,274.33 L379.26,273.96 L380.9,273.7 L382.55,273.53 L384.2,273.48 L385.85,273.53 L387.5,273.7 L389.15,273.96 L390.79,274.33 L392.44,274.79 L394.09,275.34 L395.74,275.99 L397.39,276.72 L399.03,277.53 L400.68,278.42 L402.33,279.38 L403.98,280.42 L405.63,281.53 L407.28,282.73 L408.93,284.01 L410.57,285.37 L412.22,286.82 L413.87,288.34 L415.52,289.95 L417.17,291.63 L418.81,293.4 L420.46,295.24 L422.11,297.15 L423.76,299.14 L425.41,301.24 L427.06,303.46 L428.7,305.79 L430.35,308.2 L432,310.7 L433.65,313.26 L435.3,315.87 L436.95,318.51 L438.59,321.17 L440.24,323.83 L441.89,326.49 L443.54,329.11 L445.19,331.78 L446.84,334.58 L448.49,337.47 L450.13,340.4 L451.78,343.35 L453.43,346.29 L455.08,349.18 L456.73,351.98 L458.38,354.66 L460.02,357.19 L461.67,359.53 L463.32,361.65 L465.03,363.58 L466.85,365.38 L468.73,367.06 L470.65,368.61 L472.56,370.04 L474.45,371.36 L476.26,372.56 L477.97,373.66 L479.55,374.64 L480.95,375.53 L482.14,376.31 L483.1,377" fill="none" stroke="#ef7a45" stroke-width="1.3"/>
<rect x="282.4" y="374.1" width="5.8" height="5.8" fill="#e88a5a" stroke="#5a5a5a" stroke-width="1"/>
<circle cx="285.3" cy="377" r="2.2" fill="#f07040"/>
<rect x="302.18" y="358.75" width="5.8" height="5.8" fill="#e88a5a" stroke="#5a5a5a" stroke-width="1"/>
<circle cx="305.08" cy="361.65" r="2.2" fill="#f07040"/>
<rect x="321.96" y="326.21" width="5.8" height="5.8" fill="#e88a5a" stroke="#5a5a5a" stroke-width="1"/>
<circle cx="324.86" cy="329.11" r="2.2" fill="#f07040"/>
<rect x="341.74" y="296.24" width="5.8" height="5.8" fill="#e88a5a" stroke="#5a5a5a" stroke-width="1"/>
<circle cx="344.64" cy="299.14" r="2.2" fill="#f07040"/>
<rect x="361.52" y="277.52" width="5.8" height="5.8" fill="#e88a5a" stroke="#5a5a5a" stroke-width="1"/>
<circle cx="364.42" cy="280.42" r="2.2" fill="#f07040"/>
<rect x="381.3" y="270.58" width="5.8" height="5.8" fill="#e88a5a" stroke="#5a5a5a" stroke-width="1"/>
<circle cx="384.2" cy="273.48" r="2.2" fill="#f07040"/>
<rect x="401.08" y="277.52" width="5.8" height="5.8" fill="#e88a5a" stroke="#5a5a5a" stroke-width="1"/>
<circle cx="403.98" cy="280.42" r="2.2" fill="#f07040"/>
<rect x="420.86" y="296.24" width="5.8" height="5.8" fill="#e88a5a" stroke="#5a5a5a" stroke-width="1"/>
<circle cx="423.76" cy="299.14" r="2.2" fill="#f07040"/>
<rect x="440.64" y="326.21" width="5.8" height="5.8" fill="#e88a5a" stroke="#5a5a5a" stroke-width="1"/>
<circle cx="443.54" cy="329.11" r="2.2" fill="#f07040"/>
<rect x="460.42" y="358.75" width="5.8" height="5.8" fill="#e88a5a" stroke="#5a5a5a" stroke-width="1"/>
<circle cx="463.32" cy="361.65" r="2.2" fill="#f07040"/>
<rect x="480.2" y="374.1" width="5.8" height="5.8" fill="#e88a5a" stroke="#5a5a5a" stroke-width="1"/>
<circle cx="483.1" cy="377" r="2.2" fill="#f07040"/>
<text x="424.4" y="248.9" font-size="8.3" fill="#111">Pure W</text>
<text x="424.4" y="256.8" font-size="8.3" fill="#111">W with Re</text>
<text x="424.4" y="265.2" font-size="8.3" fill="#111">All transmutants</text>
<line x1="398.7" y1="245.8" x2="419.6" y2="245.8" stroke="#777" stroke-width="1.3"/>
<rect x="406.6" y="243.3" width="5" height="5" fill="#fff" stroke="#555" stroke-width="0.9"/>
<line x1="398.7" y1="253.7" x2="419.6" y2="253.7" stroke="#9be39b" stroke-width="1.1"/>
<path d="M409.1,251.2 L411.6,253.7 L409.1,256.2 L406.6,253.7 Z" fill="#fff" stroke="#9be39b" stroke-width="0.9"/>
<line x1="398.7" y1="262.1" x2="419.6" y2="262.1" stroke="#ef7a45" stroke-width="1.2"/>
<circle cx="409.1" cy="262.1" r="2.6" fill="#f07040"/>
<rect x="369.1" y="293.6" width="46.4" height="67.1" fill="#fff" stroke="#a8a8a8" stroke-width="0.9"/>
<line x1="369.1" y1="338.33" x2="370.6" y2="338.33" stroke="#bbb" stroke-width="0.7"/>
<line x1="415.5" y1="338.33" x2="414.0" y2="338.33" stroke="#bbb" stroke-width="0.7"/>
<line x1="369.1" y1="315.97" x2="370.6" y2="315.97" stroke="#bbb" stroke-width="0.7"/>
<line x1="415.5" y1="315.97" x2="414.0" y2="315.97" stroke="#bbb" stroke-width="0.7"/>
<text x="364.5" y="363.1" font-size="6.7" text-anchor="end" fill="#111">1.64</text>
<text x="364.5" y="340.73" font-size="6.7" text-anchor="end" fill="#111">1.66</text>
<text x="364.5" y="318.37" font-size="6.7" text-anchor="end" fill="#111">1.68</text>
<text x="364.5" y="296" font-size="6.7" text-anchor="end" fill="#111">1.70</text>
<text x="369.1" y="372.5" font-size="6.7" text-anchor="middle" fill="#111">0.45</text>
<text x="392.3" y="372.5" font-size="6.7" text-anchor="middle" fill="#111">0.50</text>
<text x="415.5" y="372.5" font-size="6.7" text-anchor="middle" fill="#111">0.55</text>
<path d="M369.1,337.21 L370.26,334.6 L371.42,332.12 L372.58,329.77 L373.74,327.55 L374.9,325.47 L376.06,323.53 L377.22,321.71 L378.38,320.04 L379.54,318.49 L380.7,317.08 L381.86,315.81 L383.02,314.67 L384.18,313.66 L385.34,312.79 L386.5,312.05 L387.66,311.45 L388.82,310.98 L389.98,310.64 L391.14,310.44 L392.3,310.37 L393.46,310.44 L394.62,310.64 L395.78,310.98 L396.94,311.45 L398.1,312.05 L399.26,312.79 L400.42,313.66 L401.58,314.67 L402.74,315.81 L403.9,317.08 L405.06,318.49 L406.22,320.04 L407.38,321.71 L408.54,323.53 L409.7,325.47 L410.86,327.55 L412.02,329.77 L413.18,332.12 L414.34,334.6 L415.5,337.21" fill="none" stroke="#444" stroke-width="1" stroke-dasharray="2.5,3"/>
<path d="M369.1,349.24 L370.26,346.43 L371.42,343.77 L372.58,341.25 L373.74,338.87 L374.9,336.64 L376.06,334.55 L377.22,332.61 L378.38,330.81 L379.54,329.15 L380.7,327.64 L381.86,326.27 L383.02,325.05 L384.18,323.97 L385.34,323.03 L386.5,322.24 L387.66,321.59 L388.82,321.09 L389.98,320.73 L391.14,320.51 L392.3,320.44 L393.46,320.51 L394.62,320.73 L395.78,321.09 L396.94,321.59 L398.1,322.24 L399.26,323.03 L400.42,323.97 L401.58,325.05 L402.74,326.27 L403.9,327.64 L405.06,329.15 L406.22,330.81 L407.38,332.61 L408.54,334.55 L409.7,336.64 L410.86,338.87 L412.02,341.25 L413.18,343.77 L414.34,346.43 L415.5,349.24" fill="none" stroke="#88dd88" stroke-width="1.1"/>
<path d="M369.1,353.99 L370.26,351.37 L371.42,348.89 L372.58,346.54 L373.74,344.33 L374.9,342.25 L376.06,340.3 L377.22,338.49 L378.38,336.81 L379.54,335.27 L380.7,333.86 L381.86,332.59 L383.02,331.44 L384.18,330.44 L385.34,329.57 L386.5,328.83 L387.66,328.22 L388.82,327.75 L389.98,327.42 L391.14,327.22 L392.3,327.15 L393.46,327.22 L394.62,327.42 L395.78,327.75 L396.94,328.22 L398.1,328.83 L399.26,329.57 L400.42,330.44 L401.58,331.44 L402.74,332.59 L403.9,333.86 L405.06,335.27 L406.22,336.81 L407.38,338.49 L408.54,340.3 L409.7,342.25 L410.86,344.33 L412.02,346.54 L413.18,348.89 L414.34,351.37 L415.5,353.99" fill="none" stroke="#ef7045" stroke-width="1.2"/>
<rect x="389.5" y="306.46" width="5.6" height="5.6" fill="#fff" stroke="#555" stroke-width="0.9"/>
<path d="M392.3,317.84 L394.9,320.44 L392.3,323.04 L389.7,320.44 Z" fill="#fff" stroke="#88dd88" stroke-width="0.9"/>
<circle cx="392.3" cy="327.15" r="2.8" fill="#f07040"/>
</svg></body></html>
